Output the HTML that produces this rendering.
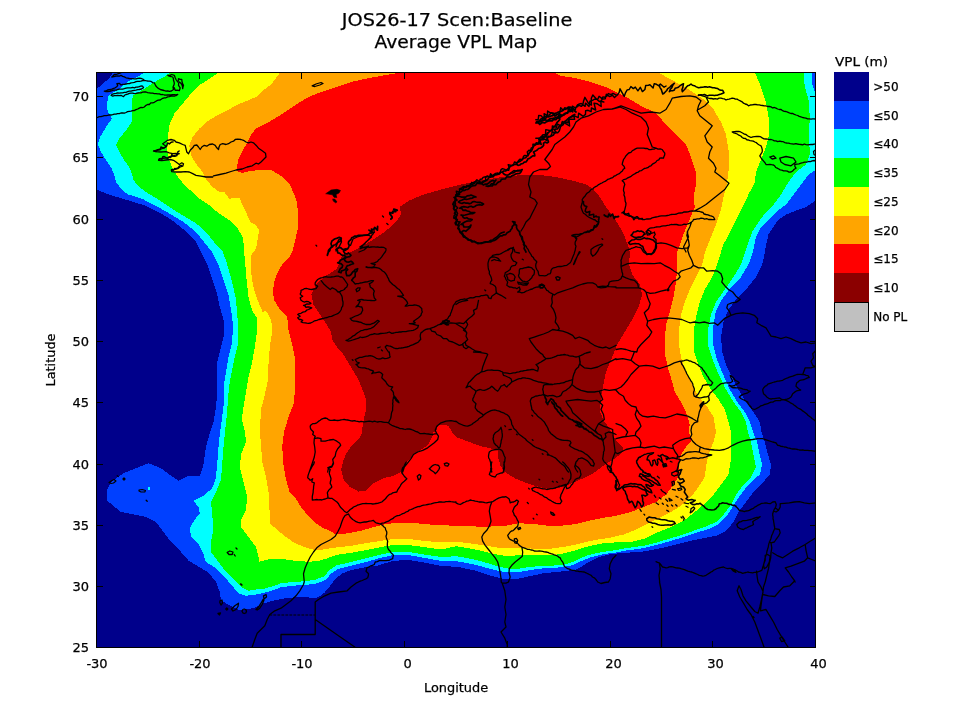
<!DOCTYPE html>
<html><head><meta charset="utf-8"><title>Average VPL Map</title>
<style>
html,body{margin:0;padding:0;background:#fff}
body{width:960px;height:720px;overflow:hidden}
svg{display:block}
text{font-family:"DejaVu Sans","Liberation Sans",sans-serif;fill:#000;stroke:#000;stroke-width:.25px}
.t{font-size:17.8px}
.k{font-size:13px}
.l{font-size:12.9px}
.g{font-size:12px}
</style></head><body>
<svg width="960" height="720" viewBox="0 0 960 720">
<rect width="960" height="720" fill="#fff"/>
<defs><clipPath id="c"><rect x="96.5" y="72.5" width="719.0" height="574.5"/></clipPath></defs>
<g clip-path="url(#c)" shape-rendering="crispEdges">
<rect x="96.5" y="72.5" width="719.0" height="574.5" fill="#00008b"/>
<polygon fill="#0040ff" points="96.0,89.5 102.8,83.8 108.7,78.8 112.5,73.5 113.0,72.0 816.0,72.0 816.0,200.5 806.0,207.0 796.0,210.5 786.0,214.5 778.0,220.0 773.5,227.0 768.5,234.5 766.0,244.5 765.0,252.0 762.2,264.5 756.0,277.0 746.0,289.5 736.0,299.5 728.5,309.5 723.5,322.0 721.0,337.0 722.2,352.0 726.0,364.5 732.2,377.0 738.5,389.5 746.0,402.0 753.5,412.0 759.8,422.0 761.5,432.0 764.8,442.0 767.2,452.0 771.0,464.5 769.8,474.5 762.2,483.2 753.5,492.0 746.0,502.0 738.5,512.0 733.5,522.0 726.0,530.8 716.0,535.8 703.5,538.2 691.0,540.8 676.0,544.5 661.0,548.2 643.5,551.5 626.0,552.8 611.0,554.0 598.5,557.0 588.5,562.0 581.0,567.0 576.0,569.5 561.0,571.5 543.5,573.2 528.5,576.5 516.0,579.0 503.5,579.0 491.0,575.8 476.0,570.8 458.5,567.0 441.0,565.8 423.5,562.5 408.5,560.0 393.5,560.8 386.0,563.0 376.8,565.8 364.3,567.4 356.0,569.0 349.3,570.8 342.7,573.3 337.7,577.0 333.5,581.2 329.3,587.0 324.3,592.8 318.5,597.2 312.7,598.2 304.5,596.8 296.0,597.0 289.0,598.0 282.7,598.7 271.0,601.2 262.7,603.7 254.3,607.8 246.0,609.5 237.7,609.5 229.3,605.3 221.0,600.3 219.8,592.0 216.0,582.0 208.5,572.5 198.5,566.5 188.5,560.5 181.0,552.0 171.0,542.0 163.5,532.0 156.0,522.0 146.0,517.0 133.5,514.5 121.0,512.0 114.8,507.0 107.2,500.8 106.5,490.8 111.0,482.0 123.5,473.2 136.0,468.2 148.5,463.2 161.0,468.2 171.0,475.8 178.5,480.8 187.2,476.5 199.8,475.8 203.5,464.5 206.0,447.0 210.0,432.0 213.5,422.0 216.0,407.0 217.2,392.0 216.5,377.0 217.2,362.0 221.0,347.0 224.0,334.5 223.5,319.5 219.8,307.0 217.2,294.5 212.2,279.5 207.2,264.5 201.0,252.0 196.0,242.0 183.5,229.5 171.0,219.5 158.5,212.0 146.0,205.8 133.5,202.0 121.0,198.2 108.5,194.5 96.0,189.5"/>
<polygon fill="#00ffff" points="108.3,112.2 107.0,108.0 107.4,103.0 107.8,97.2 111.2,93.8 117.0,90.5 124.5,84.7 127.0,82.2 132.0,79.7 138.7,76.3 145.3,72.0 811.5,72.0 812.2,84.5 815.5,93.2 816.0,93.2 816.0,169.5 808.5,174.5 801.0,184.5 793.5,194.5 786.0,204.5 776.0,212.0 768.5,219.5 761.0,227.0 756.0,237.0 753.0,252.0 748.5,264.5 741.0,277.0 731.0,287.0 721.9,299.5 715.6,312.0 713.1,327.0 713.1,344.5 716.9,359.5 723.1,374.5 729.8,389.5 737.2,402.0 744.8,412.0 749.8,422.0 753.0,432.0 757.2,442.0 759.0,452.0 762.2,464.5 759.8,474.5 751.0,482.0 743.5,490.8 737.2,499.5 731.0,509.5 726.0,517.0 718.5,524.0 708.5,529.0 696.0,532.8 683.5,537.0 671.0,540.8 658.5,544.5 643.5,548.2 626.0,550.5 615.0,552.8 609.3,553.3 599.3,555.0 589.3,557.8 581.0,561.2 572.7,565.0 562.7,567.3 551.0,567.8 539.3,568.7 529.3,570.3 519.3,572.0 509.3,572.3 499.3,571.2 489.3,568.7 477.7,565.3 466.0,562.8 456.5,561.2 441.0,560.8 423.5,557.8 408.5,555.0 393.5,555.0 381.0,557.8 366.0,562.0 351.0,565.8 337.7,569.0 331.0,573.7 326.0,579.5 317.7,583.3 306.0,585.0 292.7,585.7 281.0,587.3 272.7,590.3 264.3,592.8 256.0,594.5 246.0,595.8 238.5,593.2 231.0,584.5 223.5,575.8 216.0,568.2 206.0,562.0 203.5,554.5 198.5,544.5 191.0,537.0 189.8,528.2 194.8,519.5 199.8,513.2 198.5,507.0 193.5,500.8 203.5,495.8 212.2,488.2 215.5,479.5 217.2,464.5 218.5,447.0 220.0,432.0 222.2,417.0 224.0,402.0 223.5,387.0 226.0,372.0 228.5,357.0 232.2,342.0 233.0,324.5 231.0,309.5 228.5,294.5 223.5,279.5 218.5,264.5 212.0,252.0 206.0,244.5 196.0,232.0 183.5,222.0 171.0,214.5 156.0,205.8 143.5,199.5 128.5,194.5 124.3,192.0 121.0,188.7 116.0,182.0 114.3,175.3 111.8,168.7 106.0,160.3 101.0,152.0 97.7,143.7 100.2,137.0 106.0,127.0 111.8,118.7"/>
<polygon fill="#00ff00" points="131.2,123.0 132.4,118.0 132.0,109.7 132.0,101.3 132.8,95.5 138.7,92.2 145.3,88.0 152.0,83.8 158.7,79.7 165.3,76.3 170.3,72.0 803.5,72.0 804.8,87.0 808.5,99.5 809.8,117.0 809.0,134.5 809.8,154.5 806.0,164.5 796.0,172.0 788.5,182.0 781.0,194.5 773.5,204.5 766.0,212.0 758.5,222.0 752.2,232.0 748.5,242.0 745.0,252.0 741.0,264.5 733.5,277.0 724.8,289.5 716.0,302.0 711.0,314.5 708.0,329.5 708.5,347.0 713.5,362.0 719.8,377.0 726.0,389.5 733.5,402.0 741.0,412.0 746.0,422.0 748.0,432.0 751.0,442.0 753.5,454.5 756.0,467.0 751.0,477.0 743.5,484.5 736.0,494.5 731.0,504.5 723.5,514.5 716.0,522.0 706.0,526.5 693.5,530.8 683.5,534.5 671.0,538.2 658.5,542.0 643.5,545.8 626.0,548.2 615.0,550.3 607.7,551.2 597.7,552.8 587.7,555.3 579.3,558.7 572.7,562.0 562.7,565.0 551.0,565.7 539.3,566.2 529.3,567.0 519.3,568.7 509.3,568.7 499.3,566.7 489.3,563.7 477.7,560.3 466.0,557.8 456.5,556.2 441.0,557.0 423.5,554.5 408.5,552.0 393.5,552.0 381.0,554.5 366.0,558.2 351.0,562.0 336.0,565.5 329.3,570.3 324.3,576.2 316.0,579.5 306.0,581.2 292.7,582.0 281.0,583.3 272.7,586.2 264.3,588.7 256.0,589.5 248.5,590.8 241.0,587.0 233.5,579.5 226.0,572.0 218.5,562.0 211.0,552.0 211.0,542.0 213.5,529.5 212.2,514.5 211.0,502.0 216.0,492.0 221.0,479.5 222.2,464.5 223.5,447.0 225.0,432.0 227.2,412.0 228.0,397.0 229.8,382.0 232.2,369.5 234.8,357.0 238.0,344.5 238.5,329.5 237.2,314.5 236.0,299.5 232.2,282.0 227.2,264.5 223.0,252.0 216.0,244.5 206.0,232.0 196.0,223.2 183.5,215.8 171.0,208.2 158.5,199.5 146.0,192.0 139.3,187.0 133.5,180.3 131.8,173.7 129.3,167.0 124.3,160.3 119.3,152.0 116.0,145.3 119.3,138.7 126.0,130.3"/>
<polygon fill="#ffff00" points="219.3,72.0 754.8,72.0 761.0,87.0 766.0,102.0 768.5,117.0 769.0,134.5 766.0,147.0 761.0,159.5 756.0,172.0 754.8,182.0 748.5,194.5 741.0,209.5 736.0,219.5 729.8,232.0 723.5,244.5 721.0,252.0 717.2,264.5 712.2,277.0 704.8,289.5 699.8,302.0 696.0,317.0 693.5,332.0 693.5,349.5 698.5,364.5 703.5,377.0 711.0,389.5 718.5,399.5 724.8,409.5 728.5,422.0 731.0,432.0 731.5,444.5 731.0,459.5 728.5,474.5 721.0,484.5 713.5,494.5 703.5,504.5 693.5,513.2 683.5,520.8 671.0,527.0 658.5,532.0 646.0,538.2 631.0,542.0 616.0,542.3 602.7,543.4 592.7,545.3 582.7,547.8 572.7,551.2 562.7,553.7 551.0,555.3 539.3,555.0 527.7,554.5 517.7,555.3 507.7,556.2 499.3,555.0 489.3,552.8 477.7,550.0 466.0,547.8 456.5,546.2 441.0,549.5 423.5,547.0 408.5,545.0 393.5,545.0 381.0,547.0 366.0,550.2 351.0,552.8 336.0,555.0 326.0,558.7 317.7,561.2 309.3,561.7 297.7,561.2 286.0,559.5 272.7,558.7 264.3,560.3 258.5,562.0 258.5,557.0 256.0,547.0 248.5,537.0 241.0,527.0 241.0,519.5 246.0,509.5 247.2,497.0 243.5,482.0 239.8,467.0 241.0,454.5 246.0,442.0 245.0,432.0 241.8,419.5 243.5,407.0 246.0,392.0 248.5,377.0 252.2,362.0 254.8,347.0 257.2,329.5 257.2,318.2 252.2,310.8 248.5,297.0 246.8,282.0 245.5,267.0 244.2,252.0 244.3,248.7 242.7,237.0 237.7,228.7 229.3,220.3 219.3,213.7 209.3,205.3 199.3,198.7 192.7,192.0 186.0,187.0 179.3,178.7 173.5,170.3 169.3,160.3 166.8,150.3 167.7,138.7 169.3,125.3 174.3,113.7 182.7,103.7 191.0,93.7 199.3,85.3 209.3,78.7"/>
<polygon fill="#ffa500" points="280.5,72.0 657.2,72.0 671.0,79.5 688.5,89.5 703.5,99.5 713.5,109.5 721.0,122.0 726.0,134.5 728.5,149.5 729.0,167.0 727.2,182.0 723.5,197.0 721.0,209.5 716.0,224.5 711.0,237.0 705.0,252.0 702.2,264.5 696.0,277.0 689.8,289.5 684.8,302.0 681.0,314.5 679.0,329.5 679.0,344.5 681.0,357.0 686.0,372.0 692.2,384.5 698.5,397.0 707.2,407.0 713.5,417.0 716.0,432.0 713.5,442.0 708.5,454.5 706.0,467.0 704.8,477.0 698.5,487.0 691.0,497.0 681.0,505.8 671.0,512.0 658.5,518.2 646.0,524.5 636.0,529.5 623.5,534.5 609.3,537.8 597.7,539.5 586.0,542.0 574.3,545.0 562.7,547.0 551.0,548.7 539.3,549.0 527.7,548.3 517.7,547.8 507.7,548.3 499.3,547.8 489.3,546.2 477.7,544.5 466.0,542.8 456.0,541.7 441.0,542.5 423.5,540.8 408.5,539.0 393.5,539.0 381.0,540.8 366.0,543.2 351.0,545.8 336.0,547.5 322.7,549.5 312.7,549.5 304.3,547.0 294.3,542.8 286.0,537.0 277.7,530.3 270.2,523.7 269.3,505.3 268.5,492.0 266.0,477.0 262.2,462.0 261.0,444.5 259.8,432.0 261.0,409.5 264.8,394.5 268.0,379.5 268.5,364.5 269.8,347.0 272.5,329.5 271.0,319.5 266.0,310.8 262.7,312.0 257.7,300.3 254.3,290.3 251.8,278.7 250.7,265.3 251.0,255.3 256.0,248.7 257.7,238.7 259.3,230.3 256.0,225.3 250.2,222.0 246.0,212.0 242.7,205.3 239.3,197.8 229.3,198.7 224.3,192.0 219.3,192.0 212.7,187.0 206.8,180.3 202.7,172.0 196.0,163.7 191.0,155.3 189.3,145.3 192.7,137.0 199.3,128.7 207.7,121.2 216.0,116.2 226.0,111.2 236.0,105.3 246.0,101.2 256.0,97.0 261.0,92.0 271.0,84.5"/>
<polygon fill="#ff0000" points="403.5,72.0 553.5,72.0 561.0,75.8 576.0,78.2 591.0,82.0 608.5,88.2 626.0,97.0 641.0,105.8 656.0,113.2 666.0,124.5 676.0,134.5 686.0,144.5 691.0,157.0 696.0,172.0 696.0,184.5 693.5,197.0 694.8,207.0 688.5,222.0 683.5,234.5 677.2,252.0 677.2,267.0 676.0,282.0 673.5,297.0 669.8,312.0 666.0,324.5 664.8,339.5 664.8,354.5 668.5,369.5 672.2,382.0 674.8,392.0 681.0,402.0 686.0,412.0 689.8,424.5 688.5,432.0 692.2,439.5 686.0,447.0 681.0,454.5 678.5,464.5 679.8,474.5 673.5,484.5 666.0,494.5 656.0,502.0 643.5,507.0 631.0,512.0 616.0,515.8 601.0,518.2 588.5,520.8 576.0,524.0 561.0,525.8 548.5,525.8 533.5,524.0 518.5,523.2 506.0,525.8 491.0,526.5 476.0,526.5 456.0,525.8 436.0,525.0 416.0,523.2 401.0,522.5 386.0,524.0 373.5,527.0 361.0,530.8 348.5,533.2 336.0,534.5 331.0,531.2 322.7,527.8 314.3,522.0 307.7,515.3 301.0,507.0 296.0,498.7 289.5,492.0 286.0,479.5 283.5,464.5 282.2,447.0 284.0,432.0 288.5,417.0 293.5,404.5 294.8,392.0 294.8,377.0 295.2,359.5 292.2,344.5 288.5,329.5 287.2,317.0 282.7,312.0 279.3,308.7 274.3,300.3 272.7,292.0 274.3,282.0 277.7,272.0 282.7,263.7 289.3,257.0 292.7,250.3 295.2,240.3 297.7,228.7 298.5,215.3 296.8,202.0 294.5,195.0 289.8,184.5 281.0,175.8 271.0,170.0 258.5,170.0 249.3,171.2 242.7,172.8 237.7,172.0 236.8,167.0 238.5,158.7 242.7,150.3 247.7,142.0 251.8,133.7 256.0,128.7 258.5,127.0 271.0,120.8 283.5,113.2 296.0,104.5 308.5,97.0 321.0,92.0 336.0,87.0 351.0,82.0 368.5,78.2 386.0,75.0"/>
<polygon fill="#8b0000" points="351.0,252.0 361.0,247.0 373.5,239.5 386.0,230.8 396.0,222.0 401.0,214.5 399.8,207.0 408.5,200.8 423.5,194.5 441.0,189.5 461.0,184.5 486.0,179.5 511.0,175.8 536.0,174.5 556.0,177.0 576.0,181.5 586.0,184.5 593.5,189.5 599.8,197.0 606.0,207.0 613.5,217.0 619.8,227.0 624.8,237.0 628.5,247.0 629.8,252.0 629.2,264.5 632.2,274.5 639.8,284.5 642.2,294.5 638.5,307.0 632.2,319.5 624.8,332.0 617.2,344.5 612.2,357.0 606.0,372.0 603.5,384.5 601.0,397.0 600.0,412.0 604.0,421.0 608.3,426.7 611.7,433.3 614.0,437.5 617.0,441.5 620.5,445.0 623.5,448.5 622.5,452.0 619.5,454.8 615.5,458.0 610.5,461.5 606.7,463.3 600.0,468.3 593.3,473.3 583.3,478.3 573.3,482.5 563.3,486.7 553.3,489.2 545.0,488.3 535.0,485.8 525.0,482.5 515.0,478.3 506.7,473.3 500.8,466.7 498.3,458.3 497.5,450.0 490.0,448.3 480.0,446.0 476.0,444.5 466.0,440.8 456.0,437.0 452.0,432.0 448.5,426.0 444.0,424.5 438.0,425.0 436.0,432.0 433.5,432.0 432.2,437.0 428.5,444.5 421.0,449.5 411.0,457.0 404.8,464.5 401.0,472.0 393.5,475.8 383.5,478.2 373.5,483.2 366.0,490.8 358.5,491.5 349.8,487.0 343.5,479.5 341.0,469.5 343.5,460.3 346.0,453.7 350.2,447.8 354.3,442.8 359.3,438.7 361.8,433.7 362.7,425.3 364.3,417.0 366.3,408.7 366.3,401.0 363.5,392.0 358.5,379.5 351.0,367.0 343.5,354.5 336.0,345.8 332.2,339.5 331.0,332.0 326.0,323.2 319.8,314.5 313.5,304.5 311.5,294.5 316.0,284.5 326.0,275.8 336.0,269.5 340.0,262.0 342.0,255.0"/>
<polygon fill="#00ffff" points="147.5,487.3 150.0,487.3 150.0,489.6 147.5,489.6"/>
</g>
<g clip-path="url(#c)" fill="none" stroke="#000" stroke-width="1" stroke-linejoin="round" stroke-linecap="round">
<path stroke-width="1.30" d="M96.0,117.8 L97.6,117.3 L99.3,116.7 L101.0,116.7 L102.7,116.2 L104.3,115.6 L106.0,115.7 L107.6,115.3 L109.3,114.8 L111.0,115.0 L112.7,114.7 L114.3,114.1 L116.0,114.1 L117.6,113.6 L119.3,113.7 L120.9,113.0 L122.7,113.0 L124.4,113.1 L126.0,112.5 L127.6,111.7 L129.3,111.3 L131.0,111.2 L132.7,110.7 L134.5,110.5 L136.0,109.6 L137.7,109.0 L139.3,108.1 L141.0,107.3 L142.7,107.6 L144.3,107.0 L146.0,105.3 L147.6,104.5 L149.3,104.5 L151.0,102.8 L152.7,102.9 L154.3,102.3 L156.8,100.7 L158.5,100.1 L160.2,100.0 L162.7,98.3 L164.3,97.8 L166.0,97.8 L167.6,96.9 L169.3,96.7 L171.0,96.2 L172.7,96.2 L174.8,96.0 L176.8,95.3 L177.7,94.5 L176.0,94.9 L174.3,94.6 L172.7,94.7 L171.0,95.0 L169.3,95.0 L167.7,94.8 L166.0,95.1 L164.3,95.0 L162.7,94.5 L161.0,94.6 L159.4,93.9 L157.7,93.9 L156.0,93.7 L154.3,93.6 L152.7,93.2 L151.0,93.1 L149.3,92.8 L147.6,92.7 L146.0,92.0 L144.3,92.0 L142.6,92.1 L141.0,92.8 L139.3,92.8 L137.7,93.0 L136.0,93.4 L134.3,93.7 L132.7,93.2 L131.0,93.2 L129.3,93.3 L127.7,94.1 L126.0,94.5 L124.5,95.3 L123.5,96.7 L121.0,95.3 L119.3,95.7 L117.7,95.3 L116.0,95.7 L114.3,95.7 L112.7,96.2 L111.0,95.3 L112.5,94.2 L114.3,93.7 L116.0,93.4 L117.6,92.8 L119.4,93.2 L121.0,92.8 L122.7,92.8 L124.3,92.3 L126.1,92.3 L127.7,91.7 L129.3,91.2 L131.0,91.2 L132.7,90.7 L134.3,90.3 L136.0,90.1 L137.7,89.7 L139.3,89.5 L141.5,89.0 L143.5,87.8 L142.7,86.2 L140.9,86.0 L139.3,86.7 L137.7,87.0 L136.0,87.1 L134.4,87.8 L132.6,87.4 L131.0,87.8 L129.3,87.9 L127.6,87.8 L126.0,88.2 L124.3,88.7 L122.7,89.1 L121.0,89.2 L119.3,89.1 L117.7,89.5 L116.1,90.2 L114.3,90.1 L112.7,90.3 L111.1,91.0 L109.4,91.3 L107.7,91.7 L106.0,91.7 L104.3,91.2 L106.1,91.0 L107.6,90.0 L109.3,89.7 L111.0,89.5 L113.0,88.6 L115.2,87.8 L116.7,86.8 L117.7,85.3 L116.8,83.7 L119.3,83.3 L121.0,85.0 L122.6,84.3 L124.3,84.3 L126.0,84.0 L127.7,83.7 L129.4,83.6 L131.0,82.8 L132.7,82.7 L134.4,82.4 L136.0,81.7 L137.6,81.3 L139.3,81.3 L141.0,81.2 L142.6,80.6 L144.3,80.3 L142.7,79.0 L141.0,78.4 L139.4,78.1 L137.7,78.3 L136.0,78.8 L134.4,78.8 L132.7,78.7 L131.0,78.7 L129.3,78.5 L127.7,78.1 L126.0,77.8 L124.4,76.9 L122.6,76.4 L121.0,75.3 L119.4,76.1 L117.7,76.0 L116.0,76.2 L113.9,76.7 L111.8,77.0 L113.1,75.8 L114.3,74.5 L116.1,74.5 L117.7,73.9 L119.3,73.3 L121.0,72.7 L122.7,72.0 M144.3,80.3 L146.0,80.7 L147.6,81.0 L149.3,81.2 L151.1,81.4 L152.6,82.6 L154.3,82.8 L155.0,84.3 L155.7,85.8 L156.8,87.0 L158.4,88.4 L160.2,89.5 L162.1,90.0 L164.1,90.5 L166.0,91.2 L167.7,90.8 L169.3,91.3 L171.0,91.2 L173.5,89.5 L173.0,87.0 L174.3,87.8 L175.2,90.3 L177.3,90.2 L179.3,90.7 L180.2,87.8 L178.5,85.3 L178.6,83.6 L179.3,82.0 L180.7,83.1 L181.8,84.5 L182.5,86.5 L182.7,88.7 L183.0,87.0 L183.5,85.3 L182.6,83.5 L182.0,81.6 L181.8,79.5 L180.1,79.4 L178.5,78.7 L178.4,80.4 L177.7,82.0 L176.0,79.5 L175.1,77.5 L174.3,75.3 L171.8,74.5 L169.8,75.3 L167.7,75.3 L169.2,76.2 L171.0,76.5 L172.7,77.0 L173.4,78.6 L173.5,80.3 L174.1,82.0 L174.3,83.7 L173.8,85.4 L173.0,87.0 M167.7,140.3 L171.0,139.5 L174.3,140.3 L176.0,142.0 L179.3,142.8 L182.7,144.5 L185.2,145.3 L186.0,148.7 L186.8,152.0 L188.5,153.7 L190.2,150.3 L192.7,147.8 L194.3,145.3 L196.8,145.0 L198.5,147.0 L200.2,149.5 L201.8,147.0 L204.3,145.3 L206.8,146.2 L209.3,144.5 L212.7,144.0 L215.2,145.3 L216.8,147.8 L218.5,149.5 L219.0,147.0 L220.2,144.5 L222.7,143.7 L226.0,144.5 L228.5,143.7 L231.0,142.0 L233.5,141.2 L235.2,139.5 L237.7,139.2 L241.0,139.5 L243.5,140.3 L246.0,142.0 L248.5,142.8 L251.0,142.0 L253.5,142.8 L256.0,145.3 M256.0,145.2 L258.5,148.2 L262.2,150.8 L265.5,153.2 L266.0,157.0 L263.5,159.5 L261.0,162.0 L258.5,164.0 L256.0,163.2 L252.2,165.8 L247.2,167.0 L242.2,169.0 L236.0,170.0 L231.0,171.5 L226.0,173.2 L219.8,174.5 L213.5,175.8 M212.7,177.0 L206.0,177.0 L201.0,176.2 L196.0,175.3 L192.7,173.7 L189.3,172.0 L185.2,171.7 L181.0,172.0 L176.0,172.0 L171.8,171.7 L171.3,170.0 L174.3,169.5 L177.7,168.7 L180.2,167.0 L182.7,166.2 L183.5,163.7 L181.8,162.8 L179.3,164.5 L177.7,163.3 L176.0,162.0 L173.5,160.3 L170.2,159.5 L166.0,160.0 L161.8,160.7 L158.5,160.3 L159.3,158.7 L162.7,158.3 L167.7,157.8 L172.7,156.2 L176.0,155.0 L179.3,153.7 L176.0,153.3 L172.7,153.7 L169.3,152.8 L166.0,151.7 L161.0,152.0 L156.0,151.7 L153.5,151.2 L156.8,150.0 L161.0,149.0 L164.3,147.8 L166.0,146.2 L164.3,145.0 L162.7,143.7 L165.2,142.0 L167.7,140.3 M312.2,85.8 L316.0,84.0 L321.0,82.5 L323.0,83.5 L319.8,85.0 L314.8,86.5 L312.2,85.8 M382.5,216.0 L383.5,217.0 M386.8,223.5 L388.0,224.5 M336.0,247.0 L338.5,240.0 L341.0,238.0 L341.5,242.0 L339.0,247.0 L336.0,251.0 M350.5,245.5 L353.0,239.0 L357.2,237.0 L361.0,235.8 L368.5,235.0 L371.5,237.0 L367.2,241.0 L363.5,244.5 L359.8,247.0 L364.0,247.5 L368.5,246.0 L364.0,250.0 L359.0,252.0 M521.0,231.0 L523.5,227.0 L526.0,222.0 L529.8,218.2 L532.2,213.2 L534.8,208.2 L537.2,203.2 L534.8,199.5 L529.8,197.0 L531.0,192.0 L528.5,184.5 L529.8,177.0 L533.5,172.0 L539.8,169.5 L547.2,169.5 L550.5,166.5 L548.5,163.2 L544.8,159.5 L548.5,154.5 L552.2,149.5 L554.8,144.5 L559.8,140.8 L564.8,137.0 L569.8,132.0 L573.5,127.0 L576.0,122.0 M508.5,250.0 L511.0,248.0 L514.0,249.0 L515.0,252.0 M572.0,236.0 L574.8,237.0 L576.0,239.0 M698.5,95.0 L700.5,95.2 L702.3,95.9 L704.2,96.3 L706.0,97.0 L707.8,97.9 L709.6,98.5 L711.6,98.5 L713.5,99.0 L715.3,98.6 L717.3,99.1 L719.1,98.2 L721.0,98.2 L722.7,98.7 L724.5,98.9 L726.0,100.0 L727.5,99.4 L729.1,99.1 L730.7,98.7 L732.2,98.2 L733.9,98.4 L735.4,99.1 L737.1,99.1 L738.5,100.0 L740.3,100.9 L742.1,101.8 L743.5,103.2 L745.2,104.0 L747.0,104.5 L748.5,105.8 L750.3,105.0 L752.2,104.9 L754.1,104.5 L756.0,104.5 L757.7,104.8 L759.3,104.9 L761.0,105.4 L762.6,105.5 L764.3,105.8 L766.0,105.8 L767.6,106.5 L769.4,106.5 L771.0,106.8 L772.5,107.9 L774.4,107.5 L776.0,108.2 L777.6,109.0 L779.3,109.5 L781.1,109.4 L782.6,110.7 L784.2,111.3 L786.0,111.5 L787.6,112.2 L789.3,112.9 L790.9,113.5 L792.8,113.5 L794.3,114.4 L796.0,115.0 L797.7,115.5 L799.2,116.4 L800.9,116.9 L802.6,117.5 L804.3,117.8 L806.0,118.2 L807.6,118.8 L809.3,118.8 L811.0,119.1 L812.7,118.8 L814.4,118.8 L816.0,119.5 M576.0,122.0 L581.0,118.2 L588.5,115.8 L596.0,112.0 L603.5,109.5 L612.2,109.0 M612.2,109.0 L619.8,107.0 L626.0,109.5 L632.2,113.2 L641.0,117.0 L646.0,122.0 L648.5,128.2 L647.2,134.5 L649.8,140.8 L652.2,147.0 L656.0,148.2 M612.2,109.0 L621.0,105.8 L631.0,109.5 L641.0,113.2 L651.0,112.0 L659.8,113.2 L666.0,109.5 L669.8,103.2 L672.2,98.2 L681.0,96.5 L689.8,95.8 L696.0,97.0 L701.0,100.8 L698.5,105.8 L697.2,110.8 M698.5,109.5 L704.8,105.8 L708.5,102.0 L706.0,97.0 M697.2,110.8 L699.8,115.8 L706.0,120.8 L712.2,125.8 L708.5,130.8 L704.8,135.8 L707.2,142.0 L712.2,147.0 L709.8,152.0 L708.5,158.2 L713.5,163.2 L716.0,168.2 L714.8,172.0 L719.8,175.8 L726.0,180.8 L729.0,183.2 L724.8,189.5 L718.5,194.5 L712.2,199.5 L706.0,204.5 L699.8,208.2 L694.8,210.8 M656.0,148.2 L654.4,149.0 L652.7,149.2 L651.0,149.5 L649.1,149.6 L647.3,148.5 L645.4,148.5 L643.5,148.2 L641.4,148.1 L639.3,148.1 L637.2,148.2 L635.5,148.9 L633.9,149.9 L632.2,150.8 L630.9,152.4 L628.7,153.0 L627.2,154.5 L625.8,156.0 L624.7,157.8 L623.5,159.5 L623.0,161.2 L622.5,162.8 L622.2,164.5 L623.9,166.1 L624.8,168.2 L623.3,169.3 L622.4,170.9 L621.0,172.0 L619.4,173.6 L617.2,174.5 L615.8,175.6 L614.0,176.2 L612.7,177.6 L611.0,178.2 L609.4,178.8 L607.8,179.3 L606.5,180.5 L605.1,181.4 L603.5,182.0 L601.9,183.0 L600.3,183.7 L598.7,184.6 L597.2,185.8 L595.6,186.6 L594.1,187.5 L592.8,188.9 L591.0,189.5 L590.0,191.0 L588.7,192.2 L587.1,193.1 L586.0,194.5 L584.9,196.3 L583.4,197.8 L582.2,199.5 L582.4,201.5 L582.1,203.3 L581.5,205.2 L581.0,207.0 L581.5,208.6 L582.1,210.2 L582.7,211.8 L583.5,213.2 L585.3,214.3 L586.8,215.8 L588.5,217.0 L590.2,217.8 L591.8,218.6 L593.5,219.5 L595.3,220.0 L596.7,221.5 L598.5,222.0 L597.9,223.8 L596.4,225.1 L596.0,227.0 L594.1,227.9 L593.0,229.9 L591.0,230.8 L589.3,231.2 L587.6,231.3 L586.0,232.0 L584.1,232.4 L582.7,233.7 L581.0,234.5 L579.4,235.5 L577.8,236.4 L576.0,237.0 M656.0,148.2 L658.0,149.1 L660.2,148.8 L662.2,149.5 L663.4,151.4 L664.8,153.2 L664.7,155.0 L663.9,156.6 L663.5,158.2 L661.6,157.8 L659.8,158.2 L658.8,159.8 L657.0,160.5 L656.0,162.0 L654.3,163.2 L652.4,164.2 L651.0,165.8 L649.2,166.4 L647.8,167.7 L646.0,168.2 L644.3,168.5 L642.9,169.5 L641.5,170.6 L639.8,170.8 L638.4,172.1 L636.6,172.6 L635.1,173.6 L633.5,174.5 L632.0,175.6 L630.6,176.7 L628.9,177.4 L627.2,178.2 L625.7,179.2 L623.8,179.6 L622.2,180.8 L623.9,182.3 L624.8,184.5 L624.1,186.5 L623.6,188.6 L623.5,190.8 L624.3,192.8 L623.9,195.0 L624.8,197.0 L625.0,199.1 L625.2,201.2 L626.0,203.2 L625.8,205.4 L625.3,207.4 L624.8,209.5 L624.2,211.4 L623.5,213.2 L624.9,214.5 L626.8,215.0 L628.5,215.8 L630.4,216.2 L632.3,216.9 L634.2,217.4 L636.0,218.2 L638.2,218.2 L640.2,218.7 L642.2,219.5 L644.4,219.7 L646.4,219.0 L648.5,219.0 L650.5,218.9 L652.2,217.8 L654.1,217.3 L656.0,217.0 L657.9,216.7 L659.7,216.1 L661.6,215.9 L663.5,215.8 L665.4,215.9 L667.3,215.5 L669.2,215.1 L671.0,214.5 L672.9,214.3 L674.8,214.3 L676.7,214.0 L678.5,213.2 L680.4,213.0 L682.3,212.8 L684.1,211.9 L686.0,212.0 L688.1,211.8 L690.2,211.1 L692.2,210.8 L694.1,211.0 L696.0,210.8 L697.6,211.3 L699.4,211.4 L701.0,212.0 L702.9,212.4 L704.1,214.0 L706.0,214.5 L708.0,214.8 L709.8,215.7 L711.7,216.2 L713.5,217.0 L714.8,219.5 L712.7,219.7 L710.6,219.3 L708.5,219.5 L706.7,218.7 L704.7,219.1 L702.9,218.4 L701.0,218.2 L699.2,218.8 L697.2,218.8 L695.4,219.3 L693.5,219.5 L692.8,221.0 L691.5,222.0 L689.8,223.1 L688.0,223.9 L686.0,224.5 L684.1,224.2 L682.3,224.8 L680.4,225.2 L678.5,225.0 L676.7,224.5 L674.8,224.3 L672.9,224.7 L671.0,224.5 L669.2,225.2 L667.3,225.4 L665.4,225.8 L663.5,225.8 L661.7,226.2 L659.8,226.8 L657.9,226.9 L656.0,227.0 L654.0,227.7 L651.8,227.8 L649.8,228.2 L648.2,229.2 L647.1,230.6 L646.0,232.0 L647.9,232.9 L649.8,234.0 L652.0,233.2 L654.2,232.5 M691.5,222.0 L689.8,227.0 L687.2,232.0 L688.5,237.0 L686.0,242.0 L683.5,247.0 L686.0,252.0 M816.0,144.0 L814.3,144.1 L812.7,144.5 L811.0,144.5 L809.3,144.7 L807.7,144.9 L806.0,144.7 L804.3,144.0 L802.7,144.9 L801.0,144.5 L799.2,144.3 L797.4,144.0 L795.7,143.6 L793.8,144.1 L792.0,143.8 L790.3,143.7 L788.5,143.2 L786.7,143.0 L784.9,142.6 L783.2,141.7 L781.4,141.5 L779.6,141.1 L777.7,141.6 L776.0,140.8 L774.3,140.9 L772.7,140.0 L771.1,139.5 L769.3,139.6 L767.7,139.2 L766.0,139.0 L764.0,138.8 L762.2,137.9 L760.5,136.7 L758.5,136.5 L756.6,136.4 L754.7,136.6 L752.8,136.8 L751.0,137.5 L749.2,136.7 L747.5,135.8 L746.0,134.5 L744.4,134.2 L743.0,133.3 L741.6,132.5 L740.2,131.7 L738.5,131.5 L736.4,131.4 L734.3,131.7 L732.2,132.0 L733.8,132.9 L735.6,133.3 L737.2,134.0 L738.9,135.2 L740.8,136.0 L742.2,137.5 L743.7,138.4 L745.5,138.5 L746.8,139.8 L748.5,140.0 L750.0,140.6 L751.7,140.8 L753.3,141.1 L754.8,142.0 L756.4,142.7 L757.8,144.0 L759.3,145.0 L761.0,145.8 L761.8,147.8 L762.3,149.8 L762.2,152.0 L761.0,153.9 L759.8,155.8 L760.9,157.7 L762.2,159.5 L763.6,161.1 L765.0,162.7 L766.0,164.5 L767.9,164.7 L769.8,164.3 L771.6,164.7 L773.5,165.0 L774.8,166.1 L775.7,167.5 L777.2,168.2 L778.8,169.0 L780.2,169.9 L781.9,170.1 L783.5,170.8 L785.4,170.8 L787.3,171.1 L789.0,172.1 L791.0,172.0 L792.8,170.9 L794.2,169.3 L796.0,168.2 L794.9,166.5 L794.8,164.5 L796.8,164.1 L799.0,163.8 L801.0,163.2 L802.9,162.7 L804.7,162.1 L806.7,162.1 L808.5,161.5 L810.4,161.7 L812.2,160.9 L814.1,160.5 L816.0,160.8 M769.8,157.0 L773.5,155.8 L776.0,158.2 L772.2,159.0 L769.8,157.0 M779.8,158.2 L786.0,156.5 L793.5,158.2 L796.0,162.0 L791.0,165.8 L784.8,164.5 L781.0,162.0 L779.8,158.2 M816.0,149.5 L813.5,151.5 L814.0,154.5 L816.0,155.8 M315.2,282.8 L316.3,281.1 L317.7,279.5 L319.3,278.6 L321.0,277.8 L322.7,277.6 L324.3,276.8 L326.0,276.7 L327.6,277.1 L329.3,277.1 L331.0,277.0 L332.7,276.8 L334.3,276.7 L336.4,276.1 L338.5,276.2 L340.1,277.0 L341.8,277.0 L343.2,278.1 L344.3,279.5 L346.0,282.0 L347.7,284.5 L346.8,287.0 L345.4,288.0 L344.3,289.5 L342.8,290.3 L341.0,290.7 L339.7,292.3 L341.0,294.5 L341.9,296.1 L342.3,297.8 L342.4,300.0 L343.0,302.0 L343.0,304.1 L342.7,306.2 L341.6,307.7 L341.3,309.5 L339.7,312.0 L337.7,313.7 L335.6,314.5 L333.5,315.3 L331.5,316.3 L329.3,316.7 L327.3,317.5 L325.2,317.8 L323.1,318.5 L321.0,319.0 L318.9,319.5 L316.8,320.3 L314.6,320.8 L312.7,322.0 L310.7,323.0 L308.5,323.3 L306.8,323.2 L305.2,322.8 L303.0,322.7 L301.0,322.0 L302.7,320.3 L301.1,319.5 L299.3,319.5 L297.7,317.8 L300.2,316.2 L297.7,314.5 L299.2,313.6 L301.0,313.3 L302.9,312.1 L305.2,311.7 L306.6,310.2 L308.5,309.5 L310.1,308.6 L311.8,307.8 L309.3,307.0 L307.6,306.8 L306.0,307.3 L305.0,306.0 L303.5,305.3 L305.3,304.9 L306.8,304.0 L309.0,304.2 L311.0,303.3 L308.5,301.7 L306.4,301.4 L304.3,302.0 L302.6,301.3 L301.0,300.3 L300.2,297.8 L302.7,296.2 L301.2,295.3 L300.2,294.0 L301.0,292.3 L301.0,290.3 L302.8,289.7 L304.3,288.7 L306.5,288.4 L308.5,289.0 L310.1,289.4 L311.8,289.5 L313.9,289.0 L316.0,288.7 L317.7,286.2 L315.2,285.0 L315.2,282.8 M321.0,280.3 L323.5,283.7 L326.8,286.7 L330.2,289.5 L332.3,287.8 L335.7,289.5 L338.0,292.0 L340.7,291.3 M374.3,232.0 L373.2,233.7 L371.8,235.3 L370.7,237.1 L369.3,238.7 L367.8,240.5 L366.0,242.0 L364.6,243.9 L362.7,245.3 L361.5,247.1 L360.2,248.7 L362.2,247.9 L364.3,247.3 L366.0,247.6 L367.7,246.9 L369.3,247.4 L371.0,247.0 L372.7,246.8 L374.3,246.9 L376.0,247.2 L377.7,247.0 L379.6,247.3 L381.6,247.2 L383.5,247.3 L386.0,248.7 L385.9,250.4 L385.2,252.0 L383.9,253.7 L382.7,255.3 L381.5,257.1 L380.2,258.7 L378.7,259.7 L377.7,261.2 L376.1,262.2 L374.3,262.8 L372.7,263.2 L371.0,263.3 L373.0,264.2 L375.2,264.5 L373.5,267.0 L371.4,267.5 L369.3,267.3 L367.7,267.2 L366.0,267.0 L367.9,267.5 L369.9,267.7 L371.8,267.8 L373.8,267.5 L375.7,267.5 L377.7,267.8 L379.5,268.4 L381.0,269.5 L382.5,271.0 L384.3,272.0 L385.7,273.6 L386.8,275.3 L387.5,277.1 L388.5,278.7 L389.1,280.5 L390.2,282.0 L391.5,283.2 L392.7,284.5 L394.4,285.6 L396.0,287.0 L397.5,288.5 L399.3,289.5 L400.5,291.2 L401.8,292.8 L403.5,295.3 L401.9,295.9 L400.2,296.2 L397.7,296.2 L399.3,296.7 L401.0,296.8 L402.7,297.3 L404.4,298.7 L406.0,300.3 L407.1,301.8 L407.7,303.7 L406.3,304.8 L405.2,306.2 L407.3,306.0 L409.3,305.3 L411.0,305.3 L412.7,305.4 L414.3,305.0 L416.1,305.1 L417.7,305.6 L419.3,306.2 L420.6,307.4 L421.8,308.7 L421.8,310.4 L422.3,312.0 L421.4,313.5 L421.0,315.3 L419.8,316.6 L418.5,317.8 L416.0,319.5 L413.5,321.2 L415.2,322.8 L412.7,323.3 L411.0,323.7 L409.3,323.7 L411.0,323.9 L412.7,324.2 L414.3,324.5 L416.4,325.2 L418.5,325.3 L417.7,327.8 L415.2,329.5 L413.1,330.3 L411.0,330.7 L409.3,330.8 L407.6,331.2 L406.0,331.7 L404.3,331.6 L402.7,331.7 L401.0,332.0 L399.3,332.0 L397.7,332.3 L396.0,332.3 L393.9,333.0 L391.8,333.3 L389.3,332.0 L386.8,332.8 L384.8,333.2 L382.7,333.3 L380.6,333.5 L378.5,334.0 L376.4,334.1 L374.3,333.7 L372.7,334.3 L371.0,334.5 L369.3,335.2 L367.7,336.2 L365.6,336.9 L363.5,337.3 L361.8,337.5 L360.2,337.0 L358.6,338.1 L356.8,338.7 L354.7,339.3 L352.7,340.0 L350.6,340.7 L348.5,341.2 L346.0,340.3 L347.8,339.8 L349.3,338.7 L351.2,337.6 L352.7,336.2 L354.5,335.4 L356.0,334.0 L357.6,332.7 L359.3,331.7 L360.9,330.7 L362.7,330.3 L364.7,329.6 L366.8,329.5 L368.9,328.9 L371.0,328.3 L372.7,327.4 L374.3,326.2 L375.6,324.9 L376.8,323.7 L378.0,322.3 L379.3,321.2 L377.7,320.3 L376.0,321.6 L374.3,322.8 L372.2,323.6 L370.2,324.5 L368.1,324.4 L366.0,324.5 L364.4,323.8 L362.7,323.3 L361.1,322.4 L359.3,322.0 L357.3,321.5 L355.2,321.2 L353.4,321.0 L351.8,320.3 L350.2,318.3 L351.9,317.9 L353.5,317.0 L355.5,316.0 L357.7,315.3 L359.4,314.5 L361.0,313.7 L361.8,312.0 L362.7,310.3 L362.4,308.6 L361.8,307.0 L360.1,306.8 L358.5,306.2 L356.0,307.0 L357.1,305.6 L358.5,304.5 L359.2,302.8 L360.2,301.2 L357.7,300.3 L359.7,299.7 L361.8,299.5 L363.7,300.0 L365.7,300.1 L367.7,300.3 L369.3,300.3 L371.0,300.5 L372.7,300.7 L374.4,300.7 L376.0,300.0 L374.3,297.8 L373.9,296.2 L373.5,294.5 L373.7,292.8 L374.3,291.2 L372.7,288.7 L370.2,287.0 L370.0,285.3 L369.3,283.7 L371.1,282.8 L372.7,281.7 L373.5,280.7 L371.4,280.6 L369.3,281.2 L367.3,281.9 L365.2,282.0 L363.5,282.4 L361.8,282.8 L360.1,283.0 L358.5,283.7 L356.8,283.6 L355.2,284.0 L353.5,282.0 L351.8,280.3 M356.0,289.5 L358.0,287.8 L360.2,287.8 L359.3,290.3 L356.8,291.7 L356.0,289.5 M316.0,245.3 L316.7,246.0 M456.0,302.0 L454.8,303.7 L453.5,305.3 L452.9,307.0 L452.5,308.7 L451.8,310.3 L451.3,312.0 L450.5,313.6 L450.2,315.3 L448.7,316.8 L447.7,318.7 L446.0,320.0 L444.3,321.2 L442.7,323.7 L441.0,324.3 L439.3,324.5 L437.6,325.2 L436.0,326.2 L434.0,327.2 L431.8,327.8 L429.8,328.7 L427.7,329.0 L425.9,329.4 L424.3,330.3 L422.7,331.6 L421.0,332.8 L420.4,334.5 L420.2,336.2 L420.5,337.8 L420.7,339.5 L419.4,340.6 L418.5,342.0 L416.8,342.9 L415.2,343.7 L413.2,344.7 L411.0,345.3 L409.0,346.4 L406.8,347.0 L404.7,347.4 L402.7,347.8 L401.0,348.0 L399.3,348.1 L397.7,348.7 L395.5,348.5 L393.5,347.8 L391.9,346.9 L390.2,346.2 L388.5,345.8 L386.8,345.3 L385.2,347.0 L386.8,349.5 L388.5,352.0 M430.2,328.7 L431.8,331.2 L435.2,332.0 L436.8,334.5 L441.0,336.2 L443.5,338.7 L446.8,338.7 L449.3,341.2 L452.7,342.0 L456.0,343.7 M441.0,323.7 L446.0,323.3 L451.0,322.8 L456.0,323.3 M377.7,347.8 L380.2,347.0 M381.5,350.0 L382.3,350.7 M519.3,232.0 L519.5,233.7 L520.2,235.3 L521.3,237.3 L521.8,239.5 L522.7,240.8 L523.2,242.5 L524.3,243.7 L524.9,245.2 L526.3,246.3 L526.8,247.8 L527.9,249.1 L528.6,250.6 L529.3,252.0 L530.2,253.4 L531.1,254.7 L531.8,256.2 L533.4,257.6 L534.3,259.5 L535.8,260.6 L536.8,262.0 L536.0,263.6 L535.7,265.3 L535.9,267.5 L536.8,269.5 L538.1,271.4 L538.5,273.7 L539.3,275.7 L541.0,275.7 L542.7,275.7 L544.8,275.8 L546.8,275.3 L548.3,274.1 L550.2,273.7 L550.9,272.1 L551.0,270.3 L552.0,268.8 L553.5,267.8 L555.6,267.3 L557.7,266.7 L559.3,266.5 L561.0,266.5 L562.7,266.2 L564.7,265.6 L566.8,265.3 L568.5,264.0 L570.2,262.8 L571.1,261.2 L571.8,259.5 L572.6,257.4 L573.5,255.3 L574.2,253.7 L574.6,252.0 L575.2,250.3 L575.5,248.2 L576.0,246.2 L575.1,244.2 L575.2,242.0 L576.1,240.4 L576.8,238.7 L575.2,236.2 L573.5,235.8 L571.8,235.3 L573.9,234.7 L576.0,234.5 L577.7,234.5 L579.4,234.2 L581.0,233.6 L582.7,233.3 L584.3,232.7 L586.0,232.6 L587.6,231.9 L589.3,232.0 M579.3,251.7 L577.7,255.3 L576.0,259.5 L574.3,263.7 L573.5,264.5 L575.2,260.3 L577.3,256.2 L580.2,252.0 L579.3,251.7 M591.0,249.5 L594.3,247.0 L597.7,245.3 L601.8,244.0 L602.7,245.0 L599.3,247.8 L597.7,251.2 L595.2,254.5 L592.7,256.2 L591.0,253.7 L591.0,249.5 M602.0,238.7 L602.7,239.3 M555.7,277.3 L557.7,276.7 L560.2,277.8 L559.3,280.0 L556.8,280.0 L555.7,277.3 M513.5,247.3 L511.5,248.4 L509.3,248.7 L508.0,249.6 L506.8,250.7 L505.2,251.2 L503.8,252.0 L502.4,252.8 L501.0,253.7 L499.0,254.5 L496.8,254.5 L494.7,254.8 L492.7,255.3 L491.7,256.9 L490.2,257.8 L489.1,259.4 L488.5,261.2 L488.0,263.2 L488.0,265.3 L488.2,267.4 L488.5,269.5 L489.4,271.5 L489.3,273.7 L490.2,275.3 L491.0,277.0 L491.5,278.6 L491.8,280.3 L490.6,281.8 L490.2,283.7 L492.7,284.5 L495.2,286.2 L495.9,287.7 L496.0,289.5 L496.1,291.3 L496.8,292.8 L494.3,294.5 L491.8,296.2 L491.0,298.7 L488.5,297.8 L487.7,295.3 L486.0,294.9 L484.3,295.3 L482.7,295.7 L480.9,295.7 L479.4,296.6 L477.7,296.7 L475.9,296.6 L474.3,297.5 L472.7,297.8 L470.9,297.7 L469.3,298.0 L467.7,298.7 L466.1,299.3 L464.3,298.9 L462.7,299.5 L460.5,299.7 L458.5,300.7 L456.0,301.7 M456.0,304.5 L459.3,302.3 L463.5,301.0 L467.7,300.3 M490.2,257.8 L492.2,257.0 L494.3,257.0 L496.5,257.7 L498.5,258.7 L499.4,260.1 L500.7,261.2 L497.7,260.3 L495.9,260.2 L494.3,259.5 L491.8,260.7 M513.5,247.3 L512.7,249.2 L512.7,251.2 L512.0,252.9 L511.0,254.5 L511.1,256.6 L511.8,258.7 L513.5,261.2 L515.3,261.7 L516.8,262.8 L515.2,265.3 L513.5,265.7 L511.8,266.2 L510.6,267.6 L510.2,269.5 L507.7,271.2 L505.2,272.8 L505.0,274.6 L504.3,276.2 L505.4,277.7 L506.0,279.5 L507.7,282.0 L507.2,283.7 L506.8,285.3 L509.3,287.0 L511.5,287.2 L513.5,287.8 L515.3,287.8 L516.8,288.7 L519.3,287.0 L520.2,289.5 L519.1,291.0 L517.7,292.0 L519.8,292.1 L521.8,292.8 L524.1,292.4 L526.0,291.2 L528.2,290.5 L530.2,289.5 L532.4,289.0 L534.3,287.8 L536.4,287.1 L538.5,287.0 L539.9,286.2 L541.0,285.0 L543.5,285.3 L545.2,287.8 L546.8,290.3 L548.3,291.0 L549.3,292.3 L551.0,293.2 L552.7,294.0 L554.3,295.0 M506.8,274.5 L508.5,274.0 L510.2,273.3 L511.9,273.8 L513.5,274.5 L515.2,277.0 L514.5,278.6 L514.3,280.3 L512.7,280.7 L511.0,281.2 L509.4,280.3 L507.7,279.5 L507.7,277.8 L506.8,276.2 L506.8,274.5 M520.2,268.7 L522.3,268.7 L524.3,267.8 L526.4,267.5 L528.5,267.0 L530.2,267.3 L531.8,267.8 L532.9,269.3 L534.3,270.3 L534.4,272.4 L534.0,274.5 L532.5,275.9 L531.8,277.8 L530.5,279.0 L529.3,280.3 L527.7,281.3 L526.0,282.0 L524.4,281.3 L522.7,281.2 L521.4,280.0 L520.2,278.7 L519.0,277.1 L518.5,275.3 L519.2,273.7 L519.3,272.0 L519.3,270.2 L520.2,268.7 M517.7,282.0 L519.7,282.7 L521.8,282.8 L524.0,283.1 L526.0,283.7 L528.5,282.8 L526.8,285.0 L524.8,284.9 L522.7,285.0 L520.7,284.1 L518.5,284.0 L517.7,282.0 M516.0,252.3 L519.3,253.0 M522.3,259.2 L523.3,259.8 M484.8,290.0 L485.7,290.7 M554.3,295.0 L557.7,292.8 L562.7,291.2 L567.7,289.5 L572.7,287.8 L577.7,285.7 L582.7,284.0 L587.7,282.8 L592.7,282.8 L596.0,284.5 L597.7,287.0 L601.0,287.8 L606.0,287.3 L608.5,285.0 L609.3,282.0 L611.8,281.2 L616.0,280.7 M597.7,287.0 L602.7,286.2 L609.3,286.7 L616.0,287.0 M552.7,294.5 L551.8,298.7 L552.3,302.8 L551.0,306.2 L553.5,309.5 L555.2,313.7 L556.0,317.8 L555.2,322.0 L557.7,325.3 L559.3,328.7 L557.7,330.3 M557.7,330.3 L552.7,329.5 L548.5,332.0 L543.5,334.0 L538.5,335.7 L533.5,337.3 L529.3,338.7 L531.0,342.0 L533.5,345.3 L536.0,348.7 L539.3,352.0 M557.7,330.3 L562.7,331.2 L567.7,332.8 L572.7,335.3 L575.2,338.7 L579.3,337.0 L583.5,338.7 L587.7,340.3 L590.2,342.8 L594.3,345.3 L598.5,347.0 L602.7,347.8 L606.0,347.0 L609.3,348.7 L612.7,347.0 L616.0,345.3 M496.0,292.8 L501.0,295.3 L505.7,298.3 M478.5,300.3 L477.7,304.5 L476.8,308.7 L473.5,310.3 L474.3,313.7 L471.8,316.2 L468.5,318.7 L466.0,321.2 L467.7,324.5 L466.0,327.8 L463.5,330.3 L466.0,332.0 M456.0,323.7 L459.3,325.7 L462.7,327.8 L465.2,330.3 L466.8,332.8 L466.0,336.2 L467.7,339.5 L465.2,342.0 L466.0,345.3 L469.3,347.0 L471.8,348.7 L476.0,351.2 L481.0,352.0 M456.0,323.3 L459.3,322.8 L463.5,323.7 L466.0,321.2 M465.2,342.0 L462.7,343.7 L463.5,347.0 L466.0,348.7 L468.5,347.0 M456.0,343.7 L459.3,345.3 L462.7,344.5 M389.3,352.0 L389.5,353.7 L389.7,355.4 L390.2,357.0 L388.6,357.8 L386.8,358.3 L384.7,358.6 L382.7,357.8 L380.7,358.9 L378.5,359.0 L376.3,358.3 L374.3,357.0 L372.3,356.2 L370.2,355.7 L368.1,356.0 L366.0,356.2 L363.9,356.7 L361.8,357.3 L359.7,357.4 L357.7,358.3 L355.2,359.5 L356.8,362.0 L359.3,362.8 L357.8,364.0 L356.0,364.5 L357.4,365.6 L358.5,367.0 L360.6,367.6 L362.7,367.8 L364.8,367.8 L366.8,368.7 L368.7,368.9 L370.2,370.0 L371.9,370.4 L373.5,371.2 L371.8,373.7 L373.4,372.9 L375.2,372.8 L377.2,372.3 L379.3,372.0 L381.2,373.0 L382.7,374.5 L382.2,376.1 L381.8,377.8 L383.0,379.1 L384.3,380.3 L385.8,381.8 L386.8,383.7 L388.0,385.0 L389.3,386.2 L391.0,386.6 L392.7,387.0 L391.0,389.5 L392.5,390.9 L393.5,392.8 L393.5,394.6 L394.3,396.2 L395.8,397.7 L396.8,399.5 L398.2,401.0 L399.0,402.8 L397.7,402.0 L396.1,400.6 L395.2,398.7 L393.5,397.0 L393.2,398.7 L392.8,400.3 L393.0,402.0 L392.6,403.6 L392.9,405.3 L392.7,407.0 L392.6,408.7 L392.6,410.4 L391.8,412.0 L391.4,413.6 L391.2,415.3 L391.0,417.0 L390.5,418.7 L389.7,420.3 L388.5,422.8 M388.5,422.8 L386.6,422.4 L384.6,422.3 L382.7,422.0 L381.0,421.6 L379.3,421.6 L377.7,422.0 L376.0,421.7 L374.4,421.2 L372.6,421.8 L371.0,421.3 L369.3,421.2 L367.7,421.4 L366.0,421.6 L364.4,421.9 L362.7,421.7 L361.0,421.3 L359.3,421.8 L357.7,421.3 L356.0,421.2 L354.4,420.6 L352.6,421.0 L351.0,420.8 L349.3,420.3 L347.7,420.0 L346.0,419.8 L344.3,419.5 L342.6,419.7 L341.0,419.8 L339.3,420.3 L337.6,420.5 L336.0,420.3 L334.3,420.0 L332.3,420.3 L330.2,420.3 L328.3,419.6 L326.8,418.3 L325.2,418.0 L323.5,418.3 L321.7,419.1 L320.2,420.3 L318.4,421.4 L316.8,422.8 L314.8,423.6 L312.7,423.7 L311.2,424.7 L310.2,426.2 L310.4,427.9 L311.0,429.5 L312.3,430.7 L313.5,432.0 L312.7,434.5 L315.2,436.2 L314.3,438.7 M314.3,438.7 L314.0,442.8 L314.7,447.0 L315.2,452.0 L314.3,457.0 L312.7,462.0 L311.0,467.0 L309.3,472.0 M314.3,438.7 L317.7,437.8 L321.0,438.7 L321.0,441.2 L325.2,441.2 L329.3,440.0 L333.5,439.5 L336.8,441.2 L339.7,443.3 L340.7,445.3 L337.7,448.7 L336.0,452.0 L335.2,456.2 L332.7,459.5 L333.5,463.7 L331.8,467.0 L328.5,467.8 L327.7,472.0 M388.5,422.8 L390.1,424.2 L391.8,425.3 L393.9,426.1 L396.0,427.0 L398.2,427.6 L400.2,428.7 L401.9,428.6 L403.5,429.0 L405.2,429.5 L407.2,428.9 L409.3,429.0 L411.5,429.5 L413.5,430.3 L415.5,431.4 L417.7,432.0 L420.2,433.7 L422.3,433.7 L424.3,433.3 L426.4,433.9 L428.5,434.0 L430.6,434.4 L432.7,434.5 L434.7,433.9 L436.8,433.7 M436.8,433.7 L438.5,436.2 L437.7,439.5 L434.3,442.8 L431.0,445.3 L427.7,447.8 L422.7,450.3 L417.7,452.0 L413.5,454.5 L411.0,458.7 L407.7,462.8 L404.3,467.0 L402.7,472.0 M436.8,433.7 L435.2,430.3 L436.8,426.2 L441.0,422.8 L446.0,421.2 L451.0,420.7 L456.0,421.7 M352.3,359.7 L353.0,360.3 M456.0,421.2 L457.6,422.4 L459.3,423.7 L461.4,424.5 L463.5,425.3 L465.5,425.9 L467.7,426.2 L469.8,425.3 L471.8,424.5 L473.1,423.3 L474.7,422.3 L476.0,421.2 L477.6,420.3 L478.7,418.8 L480.2,417.8 L482.0,416.8 L483.5,415.3 L485.0,413.9 L486.8,412.8 L488.9,411.6 L491.0,410.7 L493.1,410.2 L495.2,410.0 L497.2,410.7 L499.3,411.2 L501.3,412.2 L503.5,412.8 L505.1,413.8 L506.8,414.5 L508.2,415.7 L509.3,417.0 L510.0,418.8 L511.0,420.3 L511.5,422.4 L511.8,424.5 L512.8,426.1 L513.5,427.8 L514.6,429.3 L516.0,430.3 L517.2,432.0 L518.5,433.7 L520.1,435.0 L521.8,436.2 L523.4,437.5 L525.2,438.7 L526.6,440.5 L528.5,442.0 L530.2,443.2 L531.8,444.5 L533.4,445.9 L535.2,447.0 L537.2,447.9 L539.3,448.7 L541.3,449.7 L543.5,450.3 L545.2,451.1 L546.8,452.0 L548.5,454.5 L550.1,455.5 L551.8,456.2 L553.5,457.0 L555.2,457.8 L556.5,459.0 L557.7,460.3 L559.0,461.5 L560.2,462.8 L561.8,464.1 L563.5,465.3 L565.0,466.8 L566.0,468.7 L567.1,470.5 L568.5,472.0 M543.5,394.5 L541.5,395.1 L539.3,395.3 L537.3,396.0 L535.2,396.2 L533.6,397.2 L531.8,397.8 L530.8,399.4 L530.2,401.2 L530.7,403.2 L531.0,405.3 L531.6,407.4 L531.8,409.5 L533.3,411.0 L534.3,412.8 L536.2,414.3 L537.7,416.2 L539.3,417.5 L541.0,418.7 L542.6,420.4 L544.3,422.0 L545.1,423.4 L545.9,424.9 L546.8,426.2 L547.9,428.2 L548.5,430.3 L549.7,432.0 L551.0,433.7 L552.7,434.9 L554.3,436.2 L555.9,437.6 L557.7,438.7 L559.7,439.5 L561.8,440.0 L563.9,440.4 L566.0,440.3 L568.1,440.5 L570.2,441.2 L571.0,442.8 L569.3,445.3 L570.9,446.8 L572.7,447.8 L574.7,448.9 L576.8,449.5 L578.8,450.6 L581.0,451.2 L582.5,451.8 L583.9,452.7 L585.2,453.7 L586.7,454.6 L588.1,455.7 L589.3,457.0 L590.9,458.8 L592.7,460.3 L593.3,462.1 L594.3,463.7 L593.5,466.2 L591.0,465.3 L589.8,463.6 L588.5,462.0 L587.0,460.6 L585.2,459.5 L583.5,458.6 L581.8,457.8 L580.2,458.4 L578.5,458.7 L577.4,460.5 L576.0,462.0 L575.6,464.2 L574.7,466.2 L575.2,467.9 L576.0,469.5 L577.7,472.0 M501.0,427.3 L499.7,429.5 L497.7,431.2 L495.2,432.8 L493.5,435.3 L493.5,437.0 L493.0,438.7 L493.6,440.7 L494.0,442.8 L495.0,444.0 L496.0,445.3 L497.5,446.3 L498.5,447.8 L500.2,447.0 L500.4,444.9 L501.0,442.8 L501.2,440.7 L501.8,438.7 L502.3,436.6 L502.3,434.5 L502.0,432.4 L501.8,430.3 L501.0,427.3 M491.8,472.0 L491.4,470.4 L491.6,468.6 L491.0,467.0 L490.7,465.1 L490.7,463.1 L490.2,461.2 L489.7,459.5 L488.7,458.0 L488.5,456.2 L488.8,454.1 L489.3,452.0 L491.8,450.3 L493.9,449.9 L496.0,449.5 L497.7,449.5 L499.3,449.0 L501.8,450.3 L502.8,451.9 L503.5,453.7 L504.2,455.8 L505.2,457.8 L504.9,459.5 L504.8,461.2 L504.3,462.8 L503.8,464.7 L504.1,466.8 L503.5,468.7 L503.5,470.4 L504.0,472.0 M504.8,425.8 L505.5,426.5 M509.0,429.7 L511.3,429.3 M516.5,434.2 L517.2,434.8 M532.3,439.7 L533.0,440.3 M542.3,453.7 L543.0,454.3 M547.3,454.7 L548.0,455.3 M531.8,415.3 L532.7,416.0 M602.7,440.3 L603.4,442.4 L603.5,444.5 L604.1,446.5 L604.3,448.7 L604.2,450.4 L603.5,452.0 L603.5,453.7 L603.2,455.3 L603.0,457.0 L602.7,458.7 L603.3,460.4 L604.3,462.0 L605.7,463.1 L606.8,464.5 L608.1,465.7 L609.3,467.0 L611.0,468.7 L610.6,470.3 L610.2,472.0 M466.0,387.8 L467.0,386.2 L467.8,384.6 L468.5,382.8 L470.2,381.2 L471.8,379.5 L473.2,378.0 L474.5,376.6 L476.0,375.3 L477.6,374.1 L479.4,373.3 L481.0,372.0 L482.7,371.6 L484.4,371.3 L486.0,370.7 L487.9,370.2 L489.9,370.2 L491.8,370.0 L493.8,370.3 L495.7,370.3 L497.7,370.3 L499.4,370.7 L501.0,371.4 L502.7,372.0 L502.9,373.7 L503.5,375.3 L505.6,376.0 L507.7,377.0 L509.4,377.7 L511.0,378.7 L511.5,380.3 L511.8,382.0 L510.5,383.2 L509.3,384.5 L507.9,385.6 L506.8,387.0 L505.4,385.9 L504.3,384.5 L502.8,385.5 L501.0,386.2 L500.0,387.9 L498.9,389.6 L497.7,391.2 L495.2,389.5 L493.5,387.8 L491.8,386.2 L490.3,387.6 L488.5,388.7 L486.5,389.6 L484.3,390.3 L482.2,390.1 L480.2,389.5 L478.0,390.1 L476.0,391.2 L474.4,389.8 L472.7,388.7 L471.2,387.6 L470.2,386.2 L468.0,386.7 L466.0,387.8 M476.0,391.2 L475.4,393.3 L474.3,395.3 L473.8,397.0 L472.9,398.6 L472.7,400.3 L474.2,402.1 L476.0,403.7 L475.4,405.7 L475.2,407.8 L476.4,409.5 L477.7,411.2 L479.1,411.8 L480.4,412.9 L481.8,413.7 L483.5,415.3 M473.5,352.0 L479.3,352.3 L486.8,353.7 L487.7,354.5 L485.2,360.3 L482.7,367.0 L481.8,371.2 M503.5,372.8 L505.5,372.9 L507.4,373.2 L509.3,373.7 L511.3,373.3 L513.2,372.8 L515.2,372.8 L517.1,372.2 L519.1,371.9 L521.0,371.2 L522.7,371.0 L524.3,370.6 L526.0,370.4 L527.7,370.0 L529.6,369.8 L531.5,369.5 L533.5,369.5 L535.6,370.4 L537.7,371.2 L538.0,369.5 L538.5,367.8 L537.4,366.1 L536.0,364.5 L537.8,363.9 L539.3,362.8 L541.0,362.0 L542.7,360.9 L544.4,359.9 L546.0,358.7 L544.7,357.5 L543.5,356.2 L542.7,354.5 L540.9,353.4 L539.3,352.0 M546.0,358.7 L548.0,358.5 L549.9,358.3 L551.8,357.8 L553.8,357.2 L555.8,356.3 L557.7,355.3 L559.4,355.3 L561.0,355.0 L562.7,354.8 L564.3,354.5 L566.0,354.9 L567.7,355.2 L569.3,355.8 L571.0,356.2 L572.7,356.2 L574.3,356.7 L576.0,357.0 L577.7,356.7 L579.3,356.2 L581.1,355.4 L582.7,354.6 L584.3,353.7 L586.2,353.0 L588.2,352.5 L590.2,352.0 M579.3,357.0 L579.6,358.7 L579.8,360.3 L580.2,362.0 L579.7,363.7 L579.0,365.3 L578.5,367.0 L576.7,368.5 L575.2,370.3 L574.8,372.1 L574.0,373.6 L573.5,375.3 L572.9,377.4 L572.7,379.5 L571.0,380.1 L569.3,380.6 L567.7,381.2 L565.9,381.5 L564.4,382.5 L562.7,382.8 L561.0,383.1 L559.4,383.6 L557.7,383.7 L556.0,383.8 L554.3,384.0 L552.7,384.5 L551.0,384.2 L549.3,384.2 L547.7,383.7 L545.6,383.2 L543.5,382.8 L541.8,382.5 L540.2,382.1 L538.5,382.0 L536.8,381.4 L535.2,380.8 L533.5,380.3 L531.5,379.3 L529.3,378.7 L527.7,378.4 L526.0,378.2 L524.3,377.8 L522.6,377.8 L521.0,378.6 L519.3,378.7 L517.2,379.4 L515.2,380.3 L513.5,381.2 L511.8,382.0 M552.7,384.5 L550.7,384.3 L548.8,384.7 L546.8,384.5 L545.1,384.6 L543.5,385.3 L543.2,387.4 L542.7,389.5 L543.2,391.1 L543.4,392.8 L543.5,394.5 L545.6,395.3 L547.7,396.2 L549.3,395.6 L551.0,395.6 L552.7,395.3 L554.8,396.1 L556.8,397.0 L559.0,396.3 L561.0,395.3 L561.8,393.6 L562.7,392.0 L564.3,391.0 L566.0,390.3 L567.6,389.0 L569.3,387.8 L570.7,386.3 L571.8,384.5 L572.4,382.9 L572.4,381.2 L572.7,379.5 M571.8,384.5 L576.0,387.8 L581.0,390.3 L587.7,392.0 L594.3,392.0 L599.3,391.2 L604.3,389.5 L609.3,390.3 L616.0,389.5 M579.3,357.0 L580.2,364.5 L584.3,367.8 L591.0,368.7 L597.7,367.0 L602.7,364.5 L607.7,362.8 L612.7,360.3 L616.0,358.7 M599.3,402.0 L596.8,400.3 L591.0,401.2 L584.3,400.3 L577.7,399.5 L571.0,400.3 L566.0,401.2 L567.7,404.5 L571.0,408.7 L572.7,412.8 L576.8,416.2 L581.0,420.3 L585.2,423.7 L589.3,427.0 L593.5,430.3 L597.7,433.7 L601.0,435.3 L602.7,440.3 M599.3,391.2 L601.0,395.3 L602.7,399.5 L599.3,402.0 L602.7,405.3 L601.0,409.5 L603.5,414.5 L604.3,419.5 L601.0,422.0 L598.5,423.7 L596.8,427.0 L595.2,430.3 L597.7,433.7 M598.5,423.7 L603.5,426.2 L608.5,427.8 L612.7,429.5 L612.7,432.8 L608.5,432.0 L605.2,433.7 L606.0,437.0 L602.7,440.3 M612.7,432.8 L613.5,438.7 L614.3,445.3 L615.2,452.0 L612.7,458.7 L611.8,463.7 L610.2,468.7 M612.7,432.8 L616.0,434.5 M616.0,280.7 L618.5,280.3 L621.0,278.7 L621.7,276.9 L622.7,275.3 L622.6,273.6 L622.0,272.0 L621.8,270.3 L621.4,268.7 L621.1,267.0 L621.0,265.3 L621.2,263.7 L621.2,262.0 L621.0,260.3 L621.6,258.7 L622.1,257.0 L622.7,255.3 L623.8,253.7 L624.8,251.9 L626.0,250.3 L628.5,249.5 L630.1,249.2 L631.5,248.3 L633.0,247.9 L634.6,247.4 L636.0,246.7 L637.6,247.2 L639.3,247.4 L641.0,247.8 L641.9,249.2 L642.6,250.6 L643.5,252.0 L645.3,253.1 L646.8,254.5 L648.5,254.4 L650.2,253.9 L651.8,253.7 L653.1,252.1 L653.9,250.3 L655.2,248.7 L655.4,247.0 L655.6,245.3 L656.0,243.7 L656.0,241.6 L656.0,239.5 L654.6,238.4 L653.5,237.0 L655.2,234.5 L654.3,232.0 M621.8,266.2 L627.7,263.7 L634.3,262.8 L641.0,263.7 L647.7,263.3 L654.3,263.7 L660.2,262.8 L664.3,265.3 L669.3,267.8 L674.3,271.2 L678.5,273.7 L680.2,276.7 M656.0,243.7 L661.0,242.8 L666.0,243.7 L671.0,245.3 L676.8,247.8 L681.8,248.7 L687.7,247.8 L689.3,245.3 L688.5,240.3 L686.8,235.3 L687.7,232.0 M689.3,245.3 L687.7,250.3 L689.3,255.3 L691.8,260.3 L693.5,265.3 L691.0,267.8 L686.0,269.5 L681.0,271.2 L678.5,273.7 M693.5,265.3 L698.5,267.8 L703.5,267.8 L706.8,271.2 L712.7,270.7 L717.7,271.2 L721.0,273.7 L722.7,278.7 L721.8,282.0 L725.2,286.2 L728.5,289.5 L732.7,292.0 L736.0,296.2 L740.2,299.5 L736.8,302.0 L731.8,302.8 L727.7,304.5 L726.8,307.8 L729.3,311.2 L731.0,315.3 M680.2,276.7 L677.7,279.5 L673.5,281.2 L670.2,285.3 L667.7,289.5 L666.0,290.0 L661.0,291.2 L655.2,292.8 L650.2,293.3 L646.0,292.0 L643.5,289.5 L638.5,287.8 L631.0,287.8 L622.7,287.8 L616.0,287.8 M667.3,289.2 L668.7,289.2 L668.7,290.5 L667.3,290.5 L667.3,289.2 M638.5,287.8 L637.7,283.7 L634.3,280.3 L630.2,279.5 L626.0,277.8 L622.3,276.2 M646.0,292.0 L647.7,297.8 L650.2,303.7 L648.5,308.7 L644.3,312.8 L646.0,317.0 L647.7,321.2 L653.5,319.5 L660.2,318.3 L667.7,317.8 L675.2,318.7 L681.8,319.5 L687.7,322.0 L690.2,322.8 L694.3,322.0 L699.3,322.8 L704.3,322.0 L709.3,323.3 L714.3,322.8 L717.7,325.3 L720.2,322.8 L724.3,318.7 L731.0,315.3 L736.0,313.7 L742.7,312.8 L749.3,313.7 L754.3,315.3 L757.7,318.7 L756.8,322.8 L761.0,325.3 L766.0,327.8 L768.5,332.0 L771.0,336.2 L776.0,337.0 M647.7,321.2 L646.8,325.3 L649.3,328.7 L651.8,332.0 L649.3,336.2 L645.2,340.3 L641.0,344.5 L637.7,348.7 L636.8,352.0 L631.0,351.2 L626.0,349.5 L621.0,348.7 L616.0,349.5 M616.0,359.5 L622.7,358.7 L631.0,360.3 L632.7,356.2 L634.3,352.0 M631.0,360.3 L635.2,363.7 L639.3,366.2 L646.0,365.3 L652.7,366.2 L659.3,368.7 L664.3,367.0 L669.3,365.3 L674.3,362.8 L680.2,361.2 M639.3,366.2 L635.2,370.3 L631.0,374.5 L627.7,379.5 L624.3,383.7 L621.0,387.0 L616.0,389.5 M680.2,361.2 L681.3,362.4 L681.7,364.0 L682.7,365.3 L683.6,366.9 L684.5,368.6 L685.2,370.3 L686.1,371.9 L686.8,373.7 L687.7,375.3 L688.5,376.7 L689.3,378.2 L690.2,379.5 L690.9,380.9 L691.9,382.2 L692.7,383.7 L693.0,385.4 L693.6,387.1 L694.3,388.7 L694.3,390.4 L693.6,392.0 L693.5,393.7 L694.3,396.2 M680.2,361.2 L682.2,361.0 L684.1,360.6 L686.0,360.0 L687.7,360.2 L689.3,361.0 L691.0,361.2 L692.6,362.1 L694.5,362.6 L696.0,363.7 L697.8,364.7 L699.3,366.2 L701.8,367.8 L702.9,369.7 L704.3,371.2 L705.1,372.6 L706.1,373.9 L706.8,375.3 L707.9,376.6 L708.7,378.0 L709.3,379.5 L711.1,381.1 L712.7,382.8 L711.0,385.3 L708.9,384.8 L706.8,384.5 L704.8,385.0 L702.7,385.3 L702.0,387.5 L701.0,389.5 L700.0,390.8 L699.2,392.2 L698.5,393.7 L697.0,395.3 L695.2,396.7 M694.3,396.2 L695.9,397.0 L697.6,397.4 L699.3,397.8 L701.0,397.8 L702.7,397.4 L704.3,397.0 L706.5,396.9 L708.5,396.2 L709.5,394.6 L710.2,392.8 L711.7,391.9 L712.8,390.4 L714.3,389.5 L716.1,387.9 L717.7,386.2 L719.3,384.9 L721.0,383.7 L723.1,383.4 L725.2,382.8 L727.2,382.8 L729.3,382.8 L731.1,382.3 L732.7,381.2 L731.9,379.5 L731.0,377.8 L730.2,375.3 L732.7,377.0 L734.1,378.6 L735.2,380.3 L736.7,381.0 L738.1,381.8 L739.3,382.8 L737.7,383.7 L736.0,384.5 L734.0,385.7 L731.8,386.2 L729.3,385.3 L731.0,386.6 L732.7,387.8 L734.3,387.5 L736.0,387.8 L737.7,387.8 L739.3,387.8 L741.3,388.4 L743.1,389.2 L745.2,389.5 L747.0,389.7 L748.4,390.9 L750.2,391.2 L747.7,392.8 L746.0,393.4 L744.3,393.9 L742.7,394.5 L740.9,395.6 L739.3,397.0 L740.8,398.5 L742.7,399.5 L744.4,400.2 L746.0,401.1 L747.7,402.0 L748.2,403.8 L749.3,405.3 L750.9,406.8 L751.8,408.7 L754.3,409.5 L756.0,408.8 L757.7,407.9 L759.3,407.0 L760.8,405.8 L762.7,405.4 L764.3,404.5 L766.0,404.1 L767.8,403.7 L769.3,402.8 L771.0,402.1 L772.8,402.1 L774.3,401.2 L776.0,400.7 M776.0,381.7 L774.3,382.0 L772.7,382.5 L771.0,383.1 L769.3,383.7 L767.8,384.2 L766.7,385.7 L765.2,386.2 L763.8,387.7 L762.7,389.5 L763.0,391.6 L763.5,393.7 L765.3,395.2 L766.8,397.0 L769.3,398.7 L771.0,399.0 L772.7,398.6 L774.3,398.7 L776.0,398.3 M708.5,396.2 L709.3,400.3 L706.8,402.8 L702.7,404.5 L701.0,407.8 L699.3,412.0 L698.5,416.2 L697.7,418.7 L697.7,421.7 M697.7,421.7 L692.7,418.7 L687.7,416.2 L682.7,415.0 L676.8,414.0 L671.0,416.2 L665.2,417.8 L659.3,417.3 L653.5,416.2 L647.7,417.0 L642.7,416.2 L639.3,413.7 L636.8,409.5 L636.0,407.0 L631.8,406.2 L628.5,403.7 L625.2,400.3 L623.5,396.2 L619.3,393.7 L616.0,390.3 M636.8,409.5 L635.2,414.5 L636.8,418.7 L639.3,422.0 L641.0,426.2 L638.5,429.5 L636.0,432.0 L635.2,435.3 L639.3,438.7 L641.0,442.8 L640.2,447.0 M697.7,421.7 L694.3,422.8 L691.8,426.2 L691.0,430.3 L691.8,434.5 L690.2,437.8 L692.7,441.2 L696.0,444.5 L700.2,447.0 L704.3,448.7 L709.3,449.5 L714.3,450.0 L719.3,450.3 L724.3,449.5 L728.5,447.8 L732.7,445.3 L737.7,442.8 L742.7,441.2 L747.7,440.0 L752.7,439.5 L757.7,438.7 L762.7,438.7 L767.7,440.3 L772.7,442.0 L776.0,442.8 M690.2,437.8 L685.2,438.7 L680.2,440.3 L676.0,442.8 L672.7,445.3 L673.5,448.7 L669.3,447.8 L664.3,447.0 L659.3,447.8 L654.3,446.2 L649.3,447.0 L644.3,447.8 L640.2,447.0 L632.7,447.8 L626.0,449.5 L621.0,452.0 L617.7,453.7 L616.0,452.8 M673.5,448.7 L675.2,452.0 L677.7,455.3 L676.8,458.7 M677.7,457.0 L679.7,456.6 L681.8,456.2 L683.2,455.1 L684.7,454.1 L686.0,452.8 L688.0,452.2 L690.2,452.0 L692.2,451.8 L694.3,451.7 L696.0,451.7 L697.7,451.9 L699.3,452.0 L701.3,453.1 L703.5,453.7 L705.2,453.8 L706.8,454.5 L708.5,454.5 L710.2,454.7 L711.8,455.0 L709.7,455.6 L707.7,456.2 L706.1,456.9 L704.3,457.3 L702.7,457.8 L700.5,457.9 L698.5,458.7 L696.4,458.1 L694.3,457.8 L692.2,458.0 L690.2,458.7 L688.1,458.8 L686.0,458.7 L684.4,459.6 L682.7,460.3 L680.2,459.5 L678.5,459.2 L676.8,458.7 M700.2,447.0 L699.3,452.0 M666.0,458.0 L668.0,458.7 L666.7,459.7 L666.0,458.0 M670.3,461.3 L672.0,462.0 M663.0,464.7 L665.3,465.3 L664.0,466.7 L663.0,464.7 M616.0,438.7 L622.7,437.0 L629.3,436.2 L635.2,435.3 M616.0,423.7 L621.0,425.3 L625.2,428.7 L627.7,432.0 L626.0,435.3 M607.3,466.7 L609.3,466.0 L611.3,468.3 L611.7,471.3 L609.3,470.7 L608.0,468.8 L607.3,466.7 M615.7,480.7 L618.0,481.3 L618.6,483.3 L619.7,485.0 L618.9,486.8 L619.0,488.7 L616.7,490.7 L616.1,489.1 L615.3,487.7 L617.0,485.0 L616.2,482.9 L615.7,480.7 M671.8,472.8 L673.6,472.1 L675.2,471.2 L676.8,471.6 L678.5,472.0 L677.7,475.0 L675.9,475.3 L674.3,476.2 L671.8,475.0 L671.8,472.8 M671.8,482.0 L674.0,481.2 L674.3,482.8 L674.3,484.5 L672.3,485.7 L672.4,483.8 L671.8,482.0 M677.7,488.7 L679.4,488.4 L681.0,487.8 L681.8,489.5 L680.2,490.2 L678.5,490.3 L677.7,488.7 M662.7,464.5 L664.3,463.8 L666.0,463.7 L666.8,466.2 L665.1,466.5 L663.5,467.0 L662.7,464.5 M657.3,476.3 L659.3,478.0 M661.0,489.5 L662.1,490.9 L663.5,492.0 L664.9,492.8 L666.0,494.0 M669.0,498.3 L670.6,499.2 L672.0,500.3 L669.7,501.0 L669.0,498.3 M665.7,499.3 L667.7,501.3 M684.3,502.8 L686.4,503.4 L688.5,503.7 M691.0,508.7 L693.5,507.0 L694.7,508.3 L693.4,510.3 L691.8,512.0 L690.2,512.8 L690.8,510.8 L691.0,508.7 M682.7,516.2 L684.3,518.7 L683.5,520.3 M640.0,509.3 L641.3,511.3 M644.0,514.3 L644.7,515.0 M652.0,526.7 L652.7,527.3 M656.0,502.8 L658.5,504.5 M662.3,503.3 L663.3,504.3 M666.8,505.0 L668.0,506.3 M671.5,505.0 L672.7,506.0 M675.7,504.7 L677.0,506.0 M672.3,489.3 L675.3,490.0 M667.3,457.0 L668.7,458.0 M658.0,455.3 L659.3,456.3 M677.7,482.0 L679.7,483.0 M676.0,496.2 L678.0,497.3 M681.0,498.7 L682.7,500.0 M686.0,506.2 L688.0,507.3 M666.8,510.3 L668.7,511.3 M654.3,495.3 L655.7,497.3 M659.3,497.8 L661.0,499.0 M681.0,517.0 L682.0,518.0 M314.3,462.0 L313.8,463.8 L312.8,465.4 L311.8,467.0 L311.0,468.7 L310.1,470.3 L309.3,472.0 L308.6,473.9 L308.0,475.8 L307.7,477.8 L309.1,478.9 L310.2,480.3 L312.7,478.7 L312.1,480.3 L311.8,482.0 L314.3,482.8 L313.9,484.8 L313.6,486.7 L313.5,488.7 L313.2,490.6 L313.1,492.6 L312.7,494.5 L312.3,496.3 L312.3,498.2 L312.3,500.0 L314.6,499.9 L316.8,499.5 L318.5,499.9 L320.2,499.7 L321.8,500.0 L323.4,499.3 L325.2,499.0 L328.0,497.8 M328.0,497.8 L327.8,496.2 L327.7,494.5 L327.3,492.8 L328.2,491.1 L329.3,489.5 L330.7,488.4 L331.8,487.0 L331.2,485.2 L330.2,483.7 L330.3,482.0 L330.8,480.3 L331.0,478.7 L330.5,477.0 L329.9,475.3 L329.3,473.7 L329.6,471.5 L330.2,469.5 L327.7,467.8 L329.7,466.9 L331.8,466.2 L332.8,464.1 L333.5,462.0 M328.0,497.8 L329.9,498.3 L331.8,498.3 L333.5,499.5 L335.2,500.7 L337.0,502.0 L338.5,503.7 L339.2,505.2 L340.0,506.5 L341.0,507.8 L342.8,509.4 L344.3,511.2 L346.8,512.8 L348.5,511.2 L350.2,509.5 L352.0,508.4 L353.5,507.0 L355.7,506.2 L357.7,505.0 L359.3,504.6 L361.0,504.1 L362.7,503.7 L364.3,503.7 L366.0,503.5 L367.7,503.7 L369.3,503.6 L371.0,503.7 L372.7,504.0 L374.3,503.9 L376.0,503.5 L377.7,503.3 L379.8,502.7 L381.8,502.0 L383.5,500.5 L385.2,499.0 L386.3,497.8 L387.2,496.4 L388.5,495.3 L389.7,494.3 L391.4,493.9 L392.7,492.8 L394.7,492.3 L396.8,492.0 L397.5,490.2 L398.5,488.7 L399.4,487.3 L400.3,486.0 L401.0,484.5 L402.5,482.7 L404.3,481.2 L405.6,480.0 L406.8,478.7 L405.5,477.5 L404.3,476.2 L403.1,474.5 L401.8,472.8 L401.8,471.1 L402.1,469.5 L402.7,467.8 L403.8,466.6 L404.5,465.2 L405.2,463.7 L406.3,462.0 M348.5,514.0 L349.3,515.5 L350.2,517.0 L351.4,518.3 L352.7,519.5 L354.4,520.5 L356.0,521.7 L358.0,522.4 L360.2,522.8 L362.2,522.4 L364.3,522.0 L366.0,522.0 L367.7,521.6 L369.3,521.2 L371.5,520.9 L373.5,520.3 L374.6,521.8 L376.0,522.8 L378.1,523.3 L380.2,524.0 L382.2,523.1 L384.3,522.8 L386.4,521.8 L388.5,521.2 L389.8,520.2 L391.1,519.3 L392.7,518.7 L394.2,517.2 L396.0,516.2 L397.7,515.6 L399.4,515.3 L401.0,514.5 L402.7,513.6 L404.5,513.1 L406.0,512.0 L407.8,511.4 L409.2,510.1 L411.0,509.5 L412.7,508.8 L414.3,508.0 L416.0,507.3 L417.9,506.6 L420.0,506.5 L421.8,505.7 L423.7,505.1 L425.7,504.9 L427.7,504.5 L429.4,504.2 L431.1,503.9 L432.7,503.3 L434.3,502.8 L436.0,502.6 L437.7,502.4 L439.3,502.0 L441.0,502.0 L442.7,502.2 L444.3,502.1 L446.0,501.6 L447.7,501.7 L449.3,501.5 L451.0,501.7 L452.7,501.8 L454.3,502.2 L456.0,502.0 M348.5,514.0 L345.2,515.3 L343.5,517.8 L341.8,522.0 L340.2,527.0 L337.7,532.0 L335.2,536.2 L331.0,539.5 L326.0,542.0 L321.0,544.5 L316.8,547.8 L313.5,552.0 L310.2,557.0 L307.7,562.0 L305.2,567.8 L303.5,573.7 L304.3,582.0 M380.2,524.0 L382.7,525.3 L383.7,526.8 L385.2,527.8 L385.8,530.0 L386.8,532.0 L386.7,534.1 L386.0,536.2 L386.4,537.9 L387.0,539.5 L387.7,541.2 L387.4,543.2 L387.3,545.3 L387.6,547.5 L388.5,549.5 L390.0,551.0 L391.0,552.8 L392.4,553.9 L393.5,555.3 L392.9,557.0 L392.7,558.7 L390.9,559.3 L389.3,560.3 L387.7,560.3 L386.0,560.7 L384.3,560.7 L382.7,560.6 L381.0,560.5 L379.3,560.7 L377.3,561.6 L375.2,562.0 L374.3,564.5 L372.3,565.4 L370.2,566.2 L368.6,567.1 L366.8,567.8 L366.6,569.6 L366.0,571.2 L367.3,572.4 L368.5,573.7 L368.3,575.8 L367.7,577.8 L366.1,578.8 L364.3,579.5 L362.3,580.5 L360.2,581.2 L358.5,582.0 M417.3,476.2 L419.3,474.5 L421.0,475.7 L420.2,478.7 L418.5,480.0 L417.3,476.2 M429.3,468.7 L430.7,467.5 L431.8,466.2 L433.4,465.1 L435.2,464.5 L436.8,465.0 L438.5,465.3 L439.7,467.8 L438.8,469.6 L437.7,471.2 L436.6,472.6 L435.2,473.7 L434.1,472.2 L432.7,471.2 L430.9,470.1 L429.3,468.7 M444.3,463.7 L446.8,462.8 L449.0,464.0 L447.7,466.2 L445.2,465.7 L444.3,463.7 M491.8,462.0 L491.4,463.6 L491.3,465.3 L491.3,467.0 L490.7,468.6 L490.8,470.4 L490.2,472.0 L489.3,474.5 L491.8,476.2 L493.5,476.6 L495.2,477.0 L496.8,474.5 L499.3,473.7 L500.9,473.0 L502.7,472.8 L503.7,470.8 L504.3,468.7 L504.5,467.0 L504.2,465.3 L504.1,463.7 L504.0,462.0 M531.8,488.7 L533.9,487.7 L536.0,487.0 L537.6,487.6 L539.3,487.9 L541.0,488.3 L542.9,488.8 L544.9,488.9 L546.8,489.5 L548.8,489.1 L550.7,488.7 L552.7,488.7 L554.4,488.2 L556.0,487.6 L557.7,487.0 L559.3,486.2 L561.1,486.1 L562.7,485.3 L565.7,484.5 L565.1,486.2 L564.3,487.8 L563.5,489.5 L562.7,491.2 L562.0,492.9 L561.0,494.5 L560.7,496.2 L560.2,497.8 L560.8,499.6 L561.8,501.2 L560.2,503.7 L558.1,503.6 L556.0,503.3 L553.8,502.4 L551.8,501.2 L550.4,500.3 L549.0,499.6 L547.7,498.7 L546.4,497.6 L544.8,497.2 L543.5,496.2 L542.3,495.1 L540.6,494.7 L539.3,493.7 L537.6,492.6 L535.7,492.0 L534.2,491.2 L532.7,490.7 L531.8,488.7 M562.7,462.0 L564.5,463.5 L566.0,465.3 L567.1,466.7 L568.3,468.0 L569.3,469.5 L570.0,471.1 L570.6,472.8 L571.0,474.5 L570.9,476.6 L570.7,478.7 L569.3,480.6 L568.5,482.8 L567.0,484.3 L566.0,486.2 L566.8,488.7 L568.6,488.1 L570.2,487.0 L571.2,485.2 L572.7,483.7 L573.4,482.2 L574.5,481.0 L575.2,479.5 L577.2,478.4 L579.3,477.8 L580.3,476.2 L581.0,474.5 L580.5,472.4 L580.2,470.3 L579.1,468.5 L577.7,467.0 L576.2,466.0 L575.2,464.5 L576.0,462.0 M539.0,479.2 L539.7,479.8 M552.3,481.3 L553.3,482.0 M556.5,481.7 L557.5,482.3 M562.3,478.3 L563.0,479.0 M527.3,502.5 L528.3,503.5 M550.7,512.0 L552.7,512.8 L554.7,515.0 L553.0,515.3 L551.0,513.7 L550.7,512.0 M533.2,518.3 L533.8,519.0 M536.5,514.2 L537.2,514.8 M528.7,488.3 L529.3,489.0 M456.0,502.8 L458.0,503.8 L460.2,504.5 L461.8,503.6 L463.4,502.6 L465.2,502.0 L466.7,501.1 L468.6,500.9 L470.2,500.0 L471.8,500.4 L473.5,500.6 L475.2,501.2 L477.1,501.4 L479.0,502.0 L481.0,502.0 L483.0,502.1 L484.9,502.6 L486.8,502.8 L488.5,502.3 L490.1,502.1 L491.8,502.0 L493.3,501.3 L494.7,500.4 L496.0,499.5 L497.6,498.6 L499.2,497.8 L501.0,497.3 L502.6,496.9 L504.3,497.0 L506.0,496.7 L507.5,497.7 L509.0,498.7 L509.7,500.7 L510.2,502.8 L511.8,502.2 L513.5,502.0 L515.2,501.1 L516.8,500.0 L518.5,501.2 L517.8,502.8 L517.3,504.5 L515.7,505.8 L514.3,507.3 L513.5,509.2 L512.7,511.2 L513.7,513.2 L514.3,515.3 L515.8,516.8 L516.8,518.7 L517.5,520.4 L518.5,522.0 L518.1,524.1 L517.7,526.2 L515.9,527.7 L514.3,529.5 L513.1,530.6 L511.5,531.0 L510.2,532.0 L509.0,533.7 L507.7,535.3 L508.3,537.1 L509.3,538.7 L510.6,539.7 L512.1,540.3 L513.5,541.2 L515.2,541.3 L516.8,542.0 L518.5,544.5 L520.0,545.9 L521.8,547.0 L523.9,547.8 L526.0,548.7 L527.6,549.3 L529.4,549.4 L531.0,550.0 L532.7,550.2 L534.3,551.0 L536.0,551.2 L537.7,551.1 L539.3,551.0 L541.0,551.2 L542.7,551.4 L544.3,551.8 L546.0,552.0 L547.8,552.3 L549.3,553.1 L551.0,553.7 L552.7,554.2 L554.3,554.8 L556.0,555.3 L557.5,556.0 L558.7,557.1 L560.2,557.8 L560.8,559.3 L561.6,560.7 L562.7,562.0 L563.6,564.0 L564.3,566.2 L565.9,567.5 L567.7,568.7 L569.4,569.2 L571.0,569.9 L572.7,570.3 L574.4,570.4 L576.0,571.1 L577.7,571.2 L579.3,571.6 L581.0,571.6 L582.7,571.8 L584.3,572.0 L586.0,572.8 L587.7,573.7 L589.3,574.5 L591.2,575.4 L592.5,577.0 L594.3,577.8 L595.6,579.1 L596.7,580.5 L597.7,582.0 M514.3,539.0 L516.3,538.3 L517.7,540.3 L516.8,543.3 L514.7,542.8 L514.3,539.0 M517.7,528.3 L520.2,527.3 L520.7,528.7 L518.5,529.7 L517.7,528.3 M491.8,502.0 L490.2,506.2 L489.3,511.2 L490.2,516.2 L491.0,521.2 L489.3,526.2 L486.8,530.3 L483.5,533.7 L481.8,537.0 L482.7,541.2 L485.2,545.3 L488.5,549.5 L491.8,553.7 L495.2,557.8 L497.7,562.0 L499.0,567.0 L500.2,572.8 L501.0,578.7 L501.3,582.0 M521.8,547.0 L522.7,552.0 L522.3,556.2 L519.3,558.7 L515.2,562.0 L511.8,565.3 L509.3,568.7 L509.0,572.8 L510.2,577.0 L508.5,582.0 M616.0,555.3 L612.7,558.7 L610.2,563.7 L609.3,568.7 L611.0,573.7 L610.2,578.7 L608.5,582.0 M736.0,506.7 L737.3,507.8 L738.3,509.0 L739.3,510.3 L741.0,510.9 L742.7,511.0 L744.3,511.7 L745.9,511.0 L747.7,510.9 L749.3,510.3 L751.4,509.2 L753.5,508.3 L754.7,507.1 L756.3,506.4 L757.7,505.3 L759.8,504.4 L761.8,503.3 L763.9,503.1 L766.0,502.8 L768.1,503.3 L770.2,503.7 L772.7,502.0 L775.2,501.7 L776.3,504.5 L775.9,506.2 L775.2,507.8 L774.2,509.4 L773.5,511.2 L772.7,513.7 L772.7,515.3 L773.1,517.0 L773.0,518.7 L773.5,520.3 L773.7,522.0 L774.0,523.7 L774.2,525.3 L774.6,527.0 L774.7,528.7 L773.5,531.2 L772.8,533.3 L771.8,535.3 L771.3,537.0 L770.9,538.7 L770.2,540.3 L769.6,542.0 L768.9,543.6 L768.5,545.3 L768.3,547.0 L767.7,548.7 L767.3,550.3 L766.8,552.0 L766.6,553.7 L766.0,555.3 L765.4,557.0 L764.9,558.6 L764.7,560.3 L764.3,562.0 L763.9,563.7 L763.5,565.3 L762.8,566.9 L762.4,568.7 L761.8,570.3 L759.8,571.2 L757.7,572.0 L756.0,572.1 L754.3,572.4 L752.7,572.8 L751.0,572.6 L749.3,572.4 L747.7,572.0 L746.0,572.5 L744.3,572.9 L742.7,573.3 L740.7,572.4 L738.5,572.0 L737.2,571.0 L735.8,570.2 L734.3,569.5 L732.7,568.8 L731.0,568.3 L729.3,568.3 L727.7,568.7 L725.5,568.0 L723.5,567.0 L721.4,567.4 L719.3,567.8 L717.2,568.5 L715.2,569.5 L713.7,570.1 L712.5,571.3 L711.0,572.0 L709.4,573.1 L707.6,574.2 L706.0,575.3 L704.3,575.8 L702.7,576.2 L701.0,575.6 L699.3,575.3 L697.7,574.5 L695.7,573.7 L693.8,572.8 L691.8,572.0 L689.8,571.7 L687.9,571.1 L686.0,570.3 L684.4,569.6 L682.7,569.1 L681.0,568.7 L679.4,568.2 L677.7,568.0 L676.0,567.8 L674.4,567.3 L672.7,566.9 L671.0,566.7 L669.3,566.9 L667.7,567.7 L666.0,567.8 L664.4,567.3 L662.7,567.0 L661.5,565.7 L660.5,564.2 L659.3,562.8 L657.6,562.4 L656.0,561.7 M736.8,524.5 L738.1,523.3 L739.3,522.0 L741.1,521.6 L742.7,520.7 L744.8,520.6 L746.8,520.3 L748.9,519.8 L751.0,519.5 L753.1,518.7 L755.2,517.8 L756.8,517.4 L758.6,517.3 L760.2,516.7 L758.8,517.7 L757.5,518.7 L756.0,519.5 L754.3,520.5 L752.7,521.7 L753.5,524.5 L751.9,525.5 L750.2,526.2 L748.5,526.9 L746.8,527.8 L745.0,528.4 L743.5,529.5 L741.8,529.1 L740.2,528.7 L737.7,527.0 L736.8,524.5 M775.2,507.8 L778.5,510.3 L780.2,507.0 L780.2,503.7 L784.3,503.3 L789.3,502.8 L794.3,502.0 L799.3,501.7 L804.3,502.8 L809.3,503.7 L816.0,502.8 M773.5,511.2 L776.0,512.0 L778.5,510.3 M774.7,528.7 L779.3,529.5 L780.2,532.8 L778.5,536.2 L776.0,539.5 L774.3,542.0 L771.0,542.8 L769.3,542.0 M771.0,542.8 L771.8,547.8 L771.0,552.8 L770.7,557.8 L769.3,563.7 L768.5,568.7 L766.8,575.3 L765.2,582.0 M765.2,555.3 L767.7,554.5 L770.2,556.2 L769.3,562.0 L766.8,567.0 L764.3,568.7 L763.5,564.5 L765.2,560.3 L765.2,555.3 M772.7,552.8 L776.8,555.3 L782.7,557.8 L787.7,554.5 L792.7,551.2 L799.3,547.8 L805.2,544.5 L810.2,541.2 L816.0,537.8 M805.2,544.5 L806.0,550.3 L807.7,557.8 L804.3,561.2 L797.7,563.7 L791.0,566.2 L785.2,567.8 L788.5,572.0 L791.8,577.0 L795.2,582.0 M807.7,557.8 L811.8,559.5 L816.0,561.2 M756.5,571.2 L757.2,577.0 L758.0,582.0 M659.3,562.8 L660.2,568.7 L659.0,575.3 L659.7,582.0 M731.3,568.7 L733.5,571.2 L736.0,572.3 L734.3,570.0 M597.8,582.0 L601.0,583.5 L604.8,582.5 L608.5,582.0 M659.5,582.0 L661.0,589.5 L661.5,597.0 L661.5,647.0 M739.0,585.8 L737.2,590.8 L739.8,597.0 L743.5,603.2 L747.2,609.5 L751.0,614.5 L754.8,622.0 L758.5,632.0 L762.2,642.0 L764.0,647.0 M739.0,585.8 L741.0,589.5 L743.0,595.8 L746.0,600.8 L751.0,607.0 L754.8,611.5 L758.0,613.2 L759.8,607.0 L761.5,599.5 L763.0,592.0 L762.2,597.0 L761.0,605.8 L760.5,610.8 L766.0,609.5 L769.8,615.8 L773.5,622.0 L777.2,629.5 L781.0,635.8 L784.8,642.0 L788.0,647.0 M779.8,638.2 L782.2,637.0 L784.8,640.8 L781.5,641.5 L779.8,638.2 M753.0,616.5 L754.0,617.5 M758.0,582.0 L761.0,587.0 L763.0,591.5 L763.5,587.0 L765.2,582.0 M763.0,594.5 L768.5,595.8 L774.8,596.5 L779.8,590.8 L783.5,587.0 L789.8,585.8 L794.8,580.8 L791.8,577.0 M304.2,582.0 L303.5,584.5 L299.8,590.8 L296.0,595.8 L291.0,600.8 L286.0,604.5 L281.0,608.2 L274.8,610.8 L269.8,614.5 L267.2,619.5 L264.8,625.8 L261.0,629.5 L257.2,633.2 L254.8,639.5 L252.2,647.0 M263.5,595.8 L266.0,594.5 L266.5,597.0 L264.0,599.0 L263.5,595.8 M256.0,609.5 L258.5,607.0 L261.0,603.2 L263.0,599.5 L264.0,600.0 L262.2,604.5 L259.8,608.2 L257.2,610.0 L256.0,609.5 M242.0,611.2 L242.8,609.5 L244.2,609.0 L246.0,609.8 L246.5,611.2 L245.8,613.0 L244.2,613.5 L242.8,612.8 L242.0,611.2 M231.5,609.0 L234.8,605.8 L238.5,603.2 L238.0,606.5 L236.0,609.5 L233.0,611.0 L231.5,609.0 M225.8,609.0 L226.8,608.0 L227.8,609.0 L226.8,610.0 L225.8,609.0 M220.0,600.8 L222.0,600.0 L222.5,603.2 L221.0,605.0 L219.8,602.5 L220.0,600.8 M218.0,613.5 L220.5,613.0 L219.5,615.0 L218.0,613.5 M241.0,584.0 L242.0,585.0 M358.5,582.0 L356.0,583.2 L351.0,587.0 L347.2,590.8 L338.5,592.0 L331.0,593.2 L324.8,595.8 L318.5,599.5 L315.2,602.0 L315.2,634.5 L281.0,634.5 L281.0,647.0 M315.2,619.5 L326.0,627.0 L338.5,635.8 L354.8,647.0 M776.0,337.0 L781.0,338.7 L786.0,337.0 L791.0,338.7 L796.0,341.2 L801.0,342.8 L806.0,342.0 L811.0,343.7 L816.0,342.8 M816.0,350.3 L812.7,353.7 L813.5,357.8 L811.0,361.2 L812.7,365.3 L816.0,367.0 M776.0,381.7 L777.6,381.2 L779.3,381.0 L781.0,380.7 L782.7,380.3 L784.2,379.3 L785.9,378.5 L787.7,377.8 L789.3,377.1 L791.0,376.6 L792.7,376.2 L794.7,375.3 L796.8,374.5 L798.8,374.4 L800.7,374.3 L802.7,374.5 L804.5,374.6 L806.2,375.3 L808.0,375.7 L809.3,377.3 L807.6,377.9 L806.0,378.7 L804.3,379.5 L802.7,379.8 L801.0,380.2 L799.3,380.7 L798.2,381.9 L796.8,382.8 L796.3,384.5 L796.0,386.2 L797.3,387.4 L798.5,388.7 L800.7,390.0 L799.1,390.4 L797.5,390.7 L796.0,391.2 L794.3,392.4 L792.7,393.7 L791.9,395.4 L791.0,397.0 L788.5,398.7 L786.9,399.2 L785.2,399.5 L783.5,399.7 L781.8,399.5 M816.0,366.2 L811.0,367.8 L805.2,367.8 L802.7,374.5 M776.0,398.3 L779.3,397.8 L781.8,399.5 L780.2,400.7 L776.0,400.7 M781.8,399.5 L783.9,399.9 L786.0,400.3 L787.7,401.1 L789.3,402.0 L791.0,403.2 L792.8,404.0 L794.3,405.3 L796.0,406.4 L797.5,407.7 L799.3,408.7 L801.1,409.6 L802.6,410.9 L804.3,412.0 L805.6,413.0 L806.9,414.0 L807.9,415.3 L809.3,416.2 L810.8,417.2 L812.0,418.5 L813.5,419.5 L814.9,420.6 L816.0,422.0 M776.0,442.8 L777.7,445.3 L779.4,445.5 L780.9,446.4 L782.7,446.5 L784.3,447.0 L786.1,447.2 L787.7,447.8 L789.3,448.2 L791.0,448.7 L792.6,449.0 L794.4,448.9 L796.0,449.1 L797.7,449.5 L799.3,450.0 L801.0,450.1 L802.7,449.9 L804.3,450.3 L806.0,450.3 L807.7,450.4 L809.3,450.7 L811.0,450.7 L812.7,450.9 L814.3,451.2 L816.0,451.2 M501.2,582.0 L502.2,583.2 L504.8,590.8 L506.0,599.5 L504.8,607.0 L506.0,614.5 L504.8,622.0 L506.0,627.0 L501.0,632.0 L504.8,638.2 L507.2,644.5 L507.2,647.0 M508.5,582.0 L506.0,583.2 L502.2,583.2 M123.0,479.0 L124.0,478.0 L125.0,479.0 L124.0,480.0 L123.0,479.0 M146.2,500.2 L147.2,501.2 M227.2,552.5 L229.8,551.0 L233.0,552.0 L232.2,554.5 L229.0,554.5 L227.2,552.5 M236.0,548.0 L237.0,549.0 M234.2,554.5 L235.2,556.0 M240.5,584.0 L241.5,585.0 M117.2,475.8 L118.2,476.5 M646.3,232.0 L648.5,230.3 L651.0,231.7 L650.0,234.5 L647.3,235.0 L646.3,232.0 M653.5,452.8 L651.4,452.9 L649.3,453.3 L647.6,453.5 L646.0,454.1 L644.3,454.5 L643.0,455.4 L641.5,456.1 L640.2,457.0"/>
<path stroke-width="1.69" d="M526.0,252.0 L525.1,250.2 L524.1,248.5 L524.7,246.2 L523.5,244.5 L524.1,242.5 L522.8,240.8 L522.5,238.9 L522.2,237.0 L520.7,235.7 L519.9,234.0 L519.8,232.0 L518.4,230.7 L517.2,229.2 L516.5,227.5 L516.6,225.5 L514.9,224.0 L515.0,222.0 L512.5,221.5 L514.0,222.9 L514.0,225.0 L512.3,226.3 L512.0,228.5 L510.8,229.6 L510.1,231.3 L508.5,232.0 L506.9,232.9 L505.8,234.6 L503.8,234.8 L502.2,235.8 L500.2,235.9 L498.8,237.1 L497.4,238.3 L496.0,239.5 L494.3,240.5 L492.3,241.0 L490.6,241.9 L488.5,242.0 L486.7,241.8 L485.0,242.5 L483.2,242.4 L481.6,243.5 L479.8,243.5 L477.8,243.6 L476.1,242.2 L474.3,241.5 L472.2,242.0 L470.4,240.4 L468.0,240.0 L466.8,238.5 L465.3,237.5 L463.5,237.0 L462.6,234.9 L461.0,233.2 L459.7,231.5 L459.4,229.4 L458.5,227.5 L458.7,225.6 L458.7,223.6 L460.0,222.0 L457.5,221.5 L456.0,219.5 L456.1,217.4 L456.6,215.4 L457.5,213.5 L456.8,212.0 L456.2,210.4 L454.4,209.6 L453.5,208.2 L454.6,206.9 L455.1,205.3 L455.4,203.8 L455.0,202.0 L455.1,199.9 L455.2,197.8 L456.0,195.8 L457.4,194.1 L459.0,192.8 L461.0,192.0 L462.4,190.7 L464.4,190.5 L466.0,189.5 L467.9,189.3 L469.4,188.3 L470.7,186.8 L472.2,186.0 L473.9,185.6 L475.6,185.3 L476.7,183.4 L478.5,183.5 L480.2,183.1 L481.9,182.9 L483.4,182.1 L484.8,181.0 L486.6,180.4 L487.9,179.0 L489.1,177.5 L491.0,177.0 L492.9,176.6 L494.2,175.1 L496.0,174.5 L497.8,174.4 L499.4,174.0 L500.6,172.5 L502.2,172.0 L503.7,171.0 L505.8,171.0 L507.1,169.7 L508.5,168.5 L509.7,167.0 L511.3,165.9 L512.8,165.0 L514.8,164.5 L516.5,163.8 L517.6,162.4 L518.5,160.8 L519.9,159.3 L522.1,159.6 L523.5,158.2 L525.7,157.7 L527.0,156.0 L528.5,154.5 L529.5,152.7 L531.1,151.2 L532.2,149.5 L533.0,147.4 L534.1,145.6 L536.0,144.5 L537.8,143.8 L538.7,142.2 L539.8,140.8 L541.0,139.5 L542.7,139.1 L543.4,137.4 L545.2,137.0 L546.4,136.0 L547.2,134.5 L548.1,132.9 L549.4,131.7 L550.7,130.5 L552.2,129.5 L553.1,127.6 L554.9,126.3 L556.0,124.5 L556.9,122.6 L558.4,121.1 L559.8,119.5 L559.7,117.1 L561.0,115.0 L559.0,115.2 L557.8,116.9 L556.0,117.5 L554.1,118.2 L552.2,118.6 L550.1,118.7 L548.5,120.0 L546.6,120.4 L544.7,119.8 L542.9,120.7 L541.0,121.0 L539.3,121.6 L537.7,122.3 L536.0,123.0 L537.1,121.4 L538.9,121.1 L540.2,119.8 L541.5,118.6 L543.5,118.5 L545.5,118.4 L547.1,116.7 L549.1,116.6 L551.0,116.0 L552.7,115.6 L554.0,114.5 L555.4,113.3 L557.0,112.8 L558.5,112.0 L560.1,111.5 L561.8,111.2 L562.9,109.5 L564.8,109.5 L566.5,108.8 L567.9,107.4 L569.8,107.0 L571.8,107.6 L573.5,109.0 L574.4,110.8 L576.0,112.0 M456.0,195.8 L457.9,196.1 L459.7,196.5 L461.5,197.1 L463.5,197.0 L465.6,197.2 L467.2,195.9 L469.2,195.7 L471.0,195.0 L472.7,195.7 L474.3,196.4 L476.0,197.0 L474.0,197.2 L472.3,198.1 L470.4,198.4 L468.5,199.0 L466.4,199.4 L464.2,198.9 L462.2,200.0 L460.2,200.7 L458.5,202.0 L460.3,203.0 L462.1,203.4 L464.2,202.5 L466.0,203.2 L467.7,203.1 L469.4,203.6 L471.1,203.2 L472.6,201.8 L474.2,201.5 L476.0,202.0 L477.9,202.4 L479.9,202.3 L481.7,203.0 L483.5,204.0 L482.0,205.2 L479.9,204.7 L478.1,205.0 L476.3,205.3 L474.8,206.5 L473.0,207.2 L471.2,206.3 L469.5,206.5 L467.8,207.5 L466.0,207.0 L463.8,206.7 L461.7,207.0 L459.8,208.2 L461.8,208.5 L463.2,210.4 L465.4,210.1 L467.2,211.0 L469.1,211.4 L470.8,212.6 L472.8,212.7 L474.8,212.5 L473.0,213.6 L471.0,213.6 L469.1,214.0 L467.2,214.5 L465.2,215.0 L463.1,215.4 L461.0,215.0 L462.5,215.8 L463.2,217.5 L464.8,218.2 L466.8,217.7 L468.5,219.0 L470.4,219.1 L472.2,219.5 L470.6,220.9 L468.6,221.0 L466.6,221.2 L464.8,222.0 L462.9,223.2 L461.0,224.5 L463.0,224.6 L463.9,226.9 L466.0,227.0 L467.9,226.8 L469.6,226.5 L471.0,225.0 L470.3,227.1 L468.8,228.6 L467.2,230.0 L465.8,231.3 L463.8,230.5 L462.2,231.5 M478.5,183.5 L480.3,183.6 L482.0,183.9 L483.5,185.0 L485.0,184.1 L486.9,184.2 L488.4,183.3 L489.8,182.0 L491.2,181.1 L492.7,180.4 L494.7,181.2 L496.0,180.0 L494.6,181.7 L493.5,183.5 L491.5,183.8 L490.0,185.5 L488.1,186.1 L486.0,186.0 L488.1,186.3 L490.2,185.9 L492.2,186.0 L493.4,184.4 L495.8,184.7 L497.1,183.2 L498.5,182.0 L500.4,181.5 L501.4,179.4 L503.5,179.0 L505.4,178.9 L506.5,176.9 L508.5,177.0 L510.6,176.9 L512.1,175.6 L514.0,175.0 L515.6,174.0 L517.5,173.6 L519.6,173.5 L521.0,172.0 L522.2,169.5 L520.8,170.3 L519.3,170.9 L517.6,170.6 L516.0,171.0 L514.5,172.1 L512.9,173.0 L511.0,173.0 L509.6,174.2 L508.0,175.1 L506.0,175.0 L504.4,174.4 L503.3,173.3 L502.2,172.0 M514.8,164.5 L516.5,164.3 L518.0,165.3 L519.8,165.0 L521.1,163.9 L522.9,163.5 L524.2,162.2 L526.0,162.0 L527.1,160.6 L527.9,158.9 L529.8,158.2 L531.2,157.0 L532.7,155.8 L534.8,155.8 L534.5,153.7 L533.5,152.0 L535.4,151.1 L537.2,150.0 L538.6,148.5 L540.6,148.0 L542.2,147.0 L543.6,145.4 L543.5,143.2 L545.0,142.1 L547.0,143.0 L548.5,142.0 L547.8,139.8 L547.2,137.5 L549.4,136.7 L551.5,136.0 L553.4,135.1 L554.4,133.2 L556.0,132.0 L555.0,130.7 L554.0,129.5 L555.6,129.1 L557.4,129.0 L558.5,127.5 L559.5,125.9 L561.4,125.1 L562.2,123.2 L564.1,122.3 L565.7,120.9 L567.2,119.5 L569.0,118.1 L571.0,117.0 L572.7,115.5 L574.8,114.5 M536.0,123.0 L538.2,123.0 L539.8,124.5 L541.1,123.3 L542.6,122.5 L544.6,123.0 L546.0,122.0 L548.0,121.2 L550.1,120.7 L552.2,121.0 L553.6,119.4 L555.9,119.7 L557.2,118.2 L559.2,118.0 L560.7,116.9 L562.2,115.8 L563.7,114.3 L565.3,113.2 L567.2,112.5 L568.8,111.6 L570.6,111.4 L572.2,111.0 M351.8,280.3 L353.5,277.8 L355.1,276.5 L355.2,274.5 L355.2,272.4 L356.8,271.2 L357.7,268.7 L355.2,269.5 L354.2,271.0 L352.7,272.0 L351.0,274.5 L349.3,275.7 L346.8,275.7 L346.0,272.8 L346.2,270.8 L347.7,269.5 L346.0,267.8 L345.2,269.5 L343.5,270.3 L341.6,270.9 L341.0,272.8 L338.5,272.0 L339.5,270.4 L340.2,268.7 L342.1,267.5 L342.7,265.3 L341.0,263.7 L339.3,263.5 L337.7,262.8 L339.4,262.1 L340.2,260.3 L341.8,259.4 L343.5,258.7 L346.0,257.0 L344.3,255.3 L342.6,255.4 L341.0,254.5 L339.6,253.2 L337.7,252.8 L337.6,250.8 L336.0,249.5 L338.5,247.8 L340.4,247.5 L341.8,248.7 L343.4,249.7 L345.2,250.3 L347.7,248.7 L348.7,247.1 L349.3,245.3 L348.4,243.8 L348.5,242.0 L349.6,240.6 L351.0,239.5 L351.7,237.7 L353.5,237.0 L355.0,236.0 L356.8,236.2 L358.4,235.3 L360.2,235.3 L362.3,235.4 L364.3,235.0 L366.5,235.1 L368.5,234.5 L369.9,233.1 L371.8,232.8 L374.3,232.0 M346.0,267.8 L347.1,265.9 L349.3,265.3 L351.3,264.2 L353.5,263.7 L352.5,262.2 L351.0,261.2 L349.0,262.1 L346.8,262.0 L345.3,261.0 L344.3,259.5 L345.7,257.8 L347.7,257.0 L349.6,256.6 L351.0,255.3 L349.8,254.0 L348.5,252.8 L347.0,254.0 L345.2,253.7 L343.5,251.2 L344.2,249.4 L346.0,248.7 M331.8,241.2 L333.4,239.8 L335.2,238.7 L337.3,238.1 L339.3,237.3 L341.3,238.3 L340.2,241.2 L338.4,242.1 L336.8,243.3 L335.4,244.8 L333.5,245.3 L332.5,246.9 L331.0,247.8 L329.6,248.9 L328.5,250.3 L328.2,252.0 L328.0,253.7 L327.3,255.3 L327.7,253.6 L328.5,252.0 L329.8,250.6 L330.2,248.7 L331.8,246.2 L331.0,243.7 L331.8,241.2 M441.0,323.7 L443.5,322.0 L445.2,322.4 L446.8,322.8 L449.3,321.2 L447.5,320.9 L446.0,320.0 L444.4,320.8 L442.7,321.2 L443.9,322.6 L445.2,324.0 L446.7,324.8 L448.5,324.7 M539.3,285.3 L541.8,284.2 L544.3,285.7 L542.7,287.8 L540.2,287.8 L539.3,285.3 M543.5,394.5 L544.8,395.9 L545.2,397.8 L546.4,399.8 L546.0,402.0 L547.7,404.5 L548.1,402.6 L549.3,401.2 L551.0,398.7 L553.5,400.3 L554.4,402.3 L556.0,403.7 L556.6,405.8 L558.5,407.0 L560.4,408.2 L561.0,410.3 L562.7,412.0 L564.3,413.7 L566.0,415.3 L567.7,417.0 L569.0,418.6 L571.0,419.5 L572.6,419.9 L573.8,421.2 L575.2,422.0 L576.7,422.6 L577.7,424.1 L579.3,424.5 L581.2,425.4 L582.7,427.0 L583.9,428.8 L586.0,429.5 L587.9,430.5 L589.3,432.0 L591.2,432.4 L592.7,433.7 L594.1,435.2 L596.0,436.2 L597.7,437.4 L599.3,438.7 L601.3,438.9 L602.7,440.3 M551.8,402.0 L552.5,403.5 L554.1,404.4 L554.3,406.2 L555.2,408.1 L556.8,409.5 L557.8,411.4 L559.3,412.8 L560.7,414.8 L562.7,416.2 M572.7,420.3 L574.3,421.1 L576.1,421.3 L577.7,422.0 L579.8,422.9 L581.8,424.0 M576.0,425.3 L577.7,425.6 L579.2,426.8 L581.0,426.7 L582.9,426.8 L584.1,428.5 L586.0,428.7"/>
<path stroke-width="1.56" d="M461.0,232.0 L462.6,233.4 L463.5,235.3 L464.9,236.4 L466.1,237.8 L467.7,238.7 L469.1,239.9 L471.1,240.1 L472.7,241.2 L474.5,241.4 L475.9,242.7 L477.7,242.8 L479.6,243.3 L481.6,242.8 L483.5,242.8 L485.3,241.8 L487.5,242.1 L489.3,241.2 L490.9,240.2 L492.8,239.9 L494.3,238.7 L495.8,237.6 L497.3,236.7 L498.5,235.3 L500.0,233.8 L501.8,232.8 L504.3,232.0 M610.2,472.0 L612.7,472.8 L613.7,474.3 L614.7,475.7 L616.0,477.0 L616.5,478.8 L617.7,480.3 L616.3,481.7 L616.0,483.7 L615.4,485.3 L615.2,487.0 L616.7,488.4 L618.5,489.5 L620.3,488.4 L621.8,487.0 L623.3,486.2 L624.3,485.0 L626.0,484.8 L627.7,484.6 L629.3,484.0 L631.0,483.5 L632.7,484.0 L634.3,483.7 L636.0,483.9 L637.6,484.6 L639.3,484.5 L641.2,484.8 L642.7,486.2 L644.2,487.1 L645.2,488.7 M622.7,487.8 L623.6,489.7 L625.2,491.2 L625.7,493.4 L626.8,495.3 L627.2,497.4 L627.7,499.5 L628.8,501.0 L629.3,502.8 L631.8,501.2 L632.9,502.7 L633.5,504.5 L634.4,506.1 L635.2,507.8 L636.8,505.3 L637.0,503.2 L637.7,501.2 L639.0,502.4 L640.2,503.7 L640.8,505.4 L641.8,507.0 L643.2,505.1 L643.5,502.8 L642.6,500.9 L642.7,498.7 L642.3,497.0 L641.8,495.3 L643.6,495.2 L645.2,496.2 L647.7,494.5 L646.4,493.0 L646.0,491.2 L644.5,490.0 L642.7,489.5 L641.0,488.6 L639.3,487.8 L637.8,486.8 L636.0,486.8 L634.3,486.2 L632.7,486.7 L631.0,486.3 L629.3,486.2 L627.2,486.5 L625.2,487.0 L622.7,487.8 M640.2,457.0 L638.5,457.8 L637.7,459.5 L636.6,461.0 L636.8,462.8 L637.7,464.5 L638.5,466.2 L639.8,467.8 L641.0,469.5 L642.6,470.4 L643.5,472.0 L645.1,473.0 L646.8,473.7 L648.6,473.7 L650.2,474.5 L649.3,476.2 L647.6,476.4 L646.0,475.7 L644.1,475.7 L642.7,474.5 L640.2,473.7 L639.3,476.2 L641.1,476.9 L641.8,478.7 L643.8,479.9 L646.0,480.7 L648.3,481.3 L650.2,482.8 L651.5,484.5 L653.5,485.0 L651.8,486.2 L650.0,486.3 L648.5,485.3 L646.0,484.5 L646.4,486.4 L647.7,487.8 L649.6,488.7 L651.0,490.3 L651.8,492.8 L649.3,492.0 L646.8,490.3 L645.2,488.7 M642.7,472.0 L644.9,472.4 L646.8,473.7 L648.1,474.7 L649.7,475.1 L651.0,476.2 L652.2,477.5 L654.0,478.1 L655.2,479.5 L657.2,480.8 L658.5,482.8 L660.2,485.3 L657.7,485.0 L656.1,483.7 L654.3,482.8 L653.1,481.8 L651.7,480.9 L650.2,480.3 L648.9,479.3 L647.2,479.0 L646.0,477.8 L644.4,476.6 L642.7,475.7 M646.8,518.7 L649.3,517.0 L651.0,517.4 L652.7,517.8 L654.8,517.8 L656.8,518.7 L658.9,519.0 L661.0,519.5 L662.7,519.7 L664.3,519.8 L666.0,520.0 L668.0,520.8 L670.2,521.2 L672.3,521.2 L674.3,522.0 L675.2,523.7 L673.4,524.1 L671.8,525.0 L670.2,525.1 L668.5,524.9 L666.8,525.0 L665.2,525.0 L663.5,525.3 L661.8,525.3 L659.7,525.0 L657.7,524.5 L656.1,523.8 L654.4,523.3 L652.7,523.3 L650.7,522.4 L648.5,522.0 L646.8,520.3 L646.8,518.7 M680.2,460.3 L679.3,462.0 L678.5,463.7 L678.3,465.8 L677.7,467.8 L677.3,469.7 L676.0,471.2 L677.8,471.3 L679.3,470.3 L681.8,469.5 L680.8,471.5 L680.2,473.7 L679.0,475.2 L678.5,477.0 L680.2,479.5 L682.7,478.7 L684.3,481.2 L681.8,482.8 L679.3,483.7 L681.0,486.2 L683.5,487.0 L685.2,489.5 L684.3,492.0 L686.0,494.5 L687.7,497.0 L686.0,498.7 L688.5,500.3 L690.1,499.7 L691.8,499.5 L693.5,500.0 L695.2,500.3 L692.7,502.0 L690.2,502.8 L692.7,504.5 L694.9,504.6 L696.8,503.7 L698.5,503.9 L700.2,503.3 L701.3,504.4 L702.7,505.3 L704.1,506.4 L705.2,507.8 L707.7,509.5 L709.8,509.7 L711.8,510.0 L714.1,509.8 L716.0,508.7 L717.1,507.3 L718.5,506.2 L719.3,503.7 L721.1,503.5 L722.7,502.8 L724.7,503.2 L726.8,503.3 L728.8,504.4 L731.0,504.5 L732.5,505.4 L734.4,505.4 L736.0,506.2 M659.3,85.3 L660.0,87.6 L661.3,89.5 L662.0,91.8 L662.7,94.0 L664.1,93.2 L665.2,92.0 L666.7,90.5 L667.7,88.7 L669.4,87.7 L670.7,86.2 L672.5,84.7 L674.3,83.3 L673.2,84.7 L672.4,86.2 L671.8,87.8 L670.2,89.5 L669.3,91.7 L670.9,90.7 L672.7,90.7 L674.3,90.1 L675.1,88.3 L676.8,87.8 L678.4,87.2 L679.7,86.0 L681.0,85.0 L683.5,83.7 M683.5,83.7 L683.1,85.8 L682.7,87.8 L681.9,89.7 L682.3,91.7 L683.8,90.2 L685.2,88.7 L686.3,87.1 L687.7,85.7 L689.5,85.2 L691.0,84.0 L692.4,85.3 L694.3,85.7 L696.3,86.9 L698.5,87.8 L700.3,87.4 L702.2,87.2 L704.1,86.9 L706.0,86.7 L707.6,87.2 L709.4,86.8 L711.0,87.2 L712.7,87.7 L714.3,87.8 L716.0,88.2 L717.7,88.6 L719.2,89.7 L720.9,90.3 L722.7,90.3 L724.0,92.8 L722.4,93.4 L720.9,94.0 L719.3,94.5 L717.7,95.1 L716.0,95.2 L714.4,95.6 L712.7,95.3 L711.0,95.2 L709.3,95.2 L707.7,95.9 L706.0,95.3 L704.4,94.5 L702.6,95.1 L701.0,94.7 L698.5,95.3 M631.0,235.3 L632.5,233.9 L633.5,232.0 L635.7,231.7 L637.7,230.7 L639.2,231.4 L641.1,231.0 L642.7,231.7 L644.0,232.8 L645.2,234.0 L643.6,234.8 L642.7,236.2 L640.7,237.1 L638.5,237.0 L636.5,237.6 L634.3,237.3 L632.7,236.3 L631.0,235.3 M628.5,242.8 L630.2,241.4 L631.8,240.0 L634.0,239.7 L636.0,238.7 L638.0,239.4 L640.2,239.5 L642.3,238.7 L644.3,237.8 L645.9,238.6 L647.7,238.4 L649.3,238.7 L651.4,239.5 L653.5,240.3 L654.6,241.7 L656.0,242.8 L656.2,244.5 L656.4,246.2 L656.3,247.8 L655.2,249.9 L654.3,252.0 L652.8,253.4 L651.0,254.5 L649.0,253.8 L646.8,254.0 L645.6,252.1 L644.0,250.3 L643.4,248.2 L642.7,246.2 L641.1,245.7 L639.8,244.6 L638.5,243.7 L636.8,243.8 L635.2,243.6 L633.5,243.7 L631.8,244.0 L630.2,244.5 L628.5,242.8 M583.5,201.6 L583.4,203.5 L584.4,205.8 L586.8,206.6 L585.7,208.9 L585.2,211.2 L586.5,212.4 L589.8,211.4 L589.2,215.2 L591.4,214.7 L593.7,214.3 L593.7,217.3 L596.3,216.0 L596.7,216.8 L599.1,217.1 L598.8,219.7 L598.5,219.5 L598.8,221.9 L598.3,223.8 L597.2,225.7 L596.6,226.6 L594.5,225.6 L593.5,228.6 L593.1,229.6 L591.1,229.7 L589.8,231.5 L587.3,231.2 M622.0,212.9 L624.0,211.8 L624.4,213.5 L626.2,214.2 L628.6,213.4 L629.4,216.0 L630.7,216.0 L632.7,217.3 L633.8,219.7 L636.3,216.8 L637.4,216.8 L638.9,219.0 L640.1,218.7 L642.4,218.5"/>
<path stroke-width="2.08" d="M700.2,405.7 L701.8,403.7 L703.5,402.0 L702.3,405.0 L700.7,407.0"/>
<path stroke-width="1.43" d="M676.8,458.7 L674.8,458.2 L672.7,457.8 L671.0,458.1 L669.3,458.7 L667.8,457.2 L666.0,456.2 L664.1,455.7 L662.7,454.5 L660.2,455.7 L661.3,457.7 L661.8,459.6 L662.3,461.6 L663.3,463.3 L662.2,462.0 L661.0,460.7 L659.0,458.7 L657.3,459.7 L658.0,462.7 L657.3,465.3 L656.1,464.1 L655.7,462.3 L654.7,460.0 L652.7,460.7 L653.0,462.3 L653.0,464.0 L652.0,466.0 L650.7,464.7 L650.3,463.0 L649.0,460.3 L647.0,459.7 L647.7,457.0 L648.7,455.5 L650.2,454.5 L652.0,454.0 L653.5,452.8 M535.8,119.7 L538.2,119.5 L538.7,115.4 L541.1,115.6 L544.6,119.9 L544.1,113.7 L547.4,115.7 L547.6,111.0 L549.6,112.4 L552.8,113.0 L555.8,113.9 L557.6,114.5 L559.6,113.6 L560.7,107.6 L563.2,110.5 L564.7,107.8 L567.9,108.9 L570.9,111.5 L571.6,108.4 L575.3,109.9 L575.9,107.4 L577.7,104.7 L581.3,106.4 L582.6,105.3 L583.6,101.0 L584.9,97.3 L588.5,103.3 L591.4,105.1 L591.3,98.3 L592.8,95.0 L596.4,99.0 L599.3,101.5 L601.5,100.7 L602.8,96.9 L605.0,97.2 L606.8,96.1 L608.3,93.6 L611.1,94.7 L613.0,93.4 L615.5,94.7 L617.4,95.1 L619.2,92.3 L620.0,88.8 L624.2,96.4 L625.6,92.6 L627.2,89.9 L629.2,89.5 L630.9,86.5 L633.3,88.6 L635.3,87.1 L637.9,90.8 L640.3,87.3 L642.4,91.6 L644.9,89.5 L645.7,85.5 L648.4,85.2 L649.9,84.8 L653.1,88.1 L654.2,83.7 L656.5,84.3 L658.9,85.8 L660.4,84.0 L664.1,87.2 L666.1,86.0 M536.3,122.0 L538.0,122.3 L540.9,123.6 L542.1,119.9 L543.8,116.9 L545.2,116.4 L548.6,116.7 L549.3,114.6 L551.8,112.7 L555.0,116.2 L557.0,114.6 L558.8,113.5 L562.0,115.3 L564.2,115.1 L565.9,113.5 L567.8,113.2 L568.6,107.2 L572.8,111.9 L572.4,106.2 L575.2,107.9 L577.9,106.4 L578.7,104.1 L581.2,103.5 L585.1,106.3 L585.5,103.1 L589.0,106.4 L589.9,101.2 L592.5,100.4 L594.9,99.0 L597.8,99.3 L599.1,96.3 L602.6,99.1 L605.3,98.7 L606.3,94.3 L609.7,96.6 L612.5,95.3 L614.5,97.6 L617.2,95.0 M535.2,144.8 L536.3,142.7 L541.3,144.4 L539.5,138.9 L540.5,137.0 L547.0,140.5 L547.0,138.0 L548.5,136.3 L550.6,136.6 L551.8,133.7 L552.1,132.0 L556.0,132.8 L557.7,132.7 L559.4,130.7 L560.3,127.5 L561.5,124.2 L562.3,121.5 L566.1,123.8 L569.6,126.0 L569.0,119.2 L571.7,119.3 L574.6,119.4 L573.9,115.6 L578.2,117.7 L578.6,113.2 L583.2,116.3 L585.5,114.4 L585.6,110.8 L588.1,110.3 L591.1,111.6 L591.4,108.0 L595.7,110.0 L594.0,103.2 L597.3,103.8 L601.2,106.5 L600.8,101.3 L603.8,102.0 M535.8,138.3 L538.3,138.2 L541.0,137.5 L542.6,135.0 L545.5,134.4 L545.8,129.6 L549.8,130.5 L552.2,130.8 L552.4,125.9 L556.6,127.4 L557.2,123.9 L561.1,126.1 L563.3,124.7 L564.4,121.5 L567.9,122.7 L568.6,118.1 L570.6,116.9 L573.3,116.5 M460.2,232.4 L459.4,230.1 L457.7,228.5 L459.2,225.3 L455.8,224.9 L455.0,222.9 L457.4,219.5 L453.7,218.0 L454.0,215.8 L455.3,214.4 L455.4,212.0 L455.7,209.7 L457.8,208.0 L455.4,205.6 L452.7,204.4 L453.8,201.8 L457.2,200.0 L453.9,197.5 L457.8,195.9 L456.7,194.0 L456.3,191.2 L459.7,192.3 L459.4,188.9 L461.8,187.8 L463.7,186.4 L465.9,187.6 L466.8,185.4 L469.8,187.4 L470.3,183.8 L472.6,185.2 L473.5,182.3 L475.4,181.4 L476.9,179.7 L479.4,181.6 L481.9,182.7 L483.1,181.1 L485.5,180.7 L485.6,177.3 L487.5,176.5 L489.5,177.0 L490.6,173.7 L493.1,176.7 L494.9,174.8 L496.8,174.7 L499.2,173.6 L500.7,171.1 L501.0,169.6 L502.5,168.6 L505.5,169.7 L508.8,170.2 L509.3,167.8 L508.2,164.7 L512.6,165.6 L513.4,165.0 L514.5,161.9 L516.4,162.6 L518.4,162.0 L520.1,161.5 L522.0,159.9 L523.0,158.5 L523.4,156.6 L524.5,155.4 L528.2,155.7 L527.2,151.9 L528.9,150.3 L530.6,150.5 L531.2,148.2 L533.0,147.1 L532.9,144.2 L536.1,144.3 L538.8,144.0 L539.8,142.8 L538.7,139.0 L543.2,139.8 L542.7,137.0 L544.7,136.1 L546.8,134.7 L547.4,132.7 M457.8,225.5 L456.2,223.3 L456.7,221.6 L457.1,219.4 L455.0,217.2 L457.0,215.5 L454.4,213.4 L455.5,210.9 L454.0,209.6 L454.0,208.0 L453.2,204.9 L454.3,202.9 L455.3,200.9 L456.2,199.1 L455.6,197.1 L455.7,194.7 L459.6,194.6 L459.4,191.9 L460.1,189.0 L463.3,189.3 L464.4,186.7 L466.6,187.2 L468.9,185.4 L470.5,185.4 L471.7,182.3 L474.3,183.5 L475.8,181.3 L479.1,183.3 L480.2,179.3 L482.0,179.0 L483.1,177.4 L485.5,176.8 L487.4,176.0 L490.5,177.3 L491.7,175.1 L493.5,174.9 L495.6,173.4 L498.0,172.9 M509.5,173.7 L510.9,173.3 L512.1,171.9 L514.0,170.5 L515.8,171.1 L517.5,170.5 L520.2,170.1 M154.0,150.7 L156.1,151.5 L157.0,150.4 L158.9,149.9 L160.3,149.7 L161.0,146.9 L163.1,147.8 L164.1,148.0 L165.8,147.0 L166.8,145.7 L167.6,142.9 L169.3,143.9 L171.2,142.2 L173.1,141.9 M158.9,159.4 L160.8,158.8 L162.0,159.5 L162.8,156.8 L164.2,156.5 L166.0,157.6 L167.5,158.3 L169.1,156.8 L170.7,157.2 L171.8,154.6 L173.7,156.3 L174.9,156.4 L176.8,155.7 L177.6,153.1 L178.0,151.7 L179.2,151.0 M171.9,169.7 L173.4,170.0 L174.7,168.5 L176.0,168.6 L178.0,167.9 L178.9,166.8 L179.7,166.0 L181.7,165.4"/>
<path stroke-width="1" stroke-dasharray="2,2" d="M269.8,615.0 H314.8"/>
<path stroke-width="1.17" d="M109.0,482.5 L111.5,480.8 L114.0,479.5 L116.0,481.0 L113.5,483.0 L111.0,483.5 L109.0,482.5 M139.0,490.0 L142.2,489.5 L145.5,490.5 L144.8,492.0 L141.0,492.0 L139.0,491.0 L139.0,490.0"/>
<path fill="#000" stroke-width="0.6" d="M326,193.5 L329,191.5 L331,190 L337,189.3 L340.5,190.5 L339,193 L336,194.5 L336.8,197.5 L334,197.3 L332.5,194.8 L329,194.2Z M333,199 L335,199.3 L337,202 L335.5,202.8 L333.3,201Z"/>
<path stroke-width="1.82" d="M604.2,215.0 L605.7,216.2 L607.9,217.0 L609.0,214.1 L610.5,216.2 L612.6,214.2 L614.2,218.5 L615.2,216.6 L616.9,216.9 L618.5,216.5 M369.0,230.1 L372.1,232.5 L371.5,229.2 L374.0,230.0 L373.9,228.9 L374.7,227.5 L377.4,230.1 L377.6,226.5"/>
<path stroke-width="1.95" d="M397.2,210.2 L393.8,209.2 L395.6,211.6 L392.7,211.4 L392.8,213.1 L389.9,212.6 L389.9,213.9 L392.0,216.8 L392.1,217.9 L390.9,219.0"/>
</g>
<rect x="96.5" y="72.5" width="719.0" height="574.5" fill="none" stroke="#000" stroke-width="1" shape-rendering="crispEdges"/>
<path d="M96.5,647.0v-6 M96.5,72.5v6 M199.5,647.0v-6 M199.5,72.5v6 M301.5,647.0v-6 M301.5,72.5v6 M404.5,647.0v-6 M404.5,72.5v6 M507.5,647.0v-6 M507.5,72.5v6 M610.5,647.0v-6 M610.5,72.5v6 M712.5,647.0v-6 M712.5,72.5v6 M815.5,647.0v-6 M815.5,72.5v6 M96.5,647.5h6 M815.5,647.5h-6 M96.5,586.5h6 M815.5,586.5h-6 M96.5,525.5h6 M815.5,525.5h-6 M96.5,464.5h6 M815.5,464.5h-6 M96.5,402.5h6 M815.5,402.5h-6 M96.5,341.5h6 M815.5,341.5h-6 M96.5,280.5h6 M815.5,280.5h-6 M96.5,219.5h6 M815.5,219.5h-6 M96.5,157.5h6 M815.5,157.5h-6 M96.5,96.5h6 M815.5,96.5h-6" stroke="#000" stroke-width="1" fill="none" shape-rendering="crispEdges"/>
<text class="k" x="97.0" y="668" text-anchor="middle">-30</text>
<text class="k" x="200.0" y="668" text-anchor="middle">-20</text>
<text class="k" x="302.0" y="668" text-anchor="middle">-10</text>
<text class="k" x="407.6" y="668" text-anchor="middle">0</text>
<text class="k" x="510.6" y="668" text-anchor="middle">10</text>
<text class="k" x="613.6" y="668" text-anchor="middle">20</text>
<text class="k" x="715.6" y="668" text-anchor="middle">30</text>
<text class="k" x="818.6" y="668" text-anchor="middle">40</text>
<text class="k" x="89" y="652.1" text-anchor="end">25</text>
<text class="k" x="89" y="591.1" text-anchor="end">30</text>
<text class="k" x="89" y="530.1" text-anchor="end">35</text>
<text class="k" x="89" y="469.1" text-anchor="end">40</text>
<text class="k" x="89" y="407.1" text-anchor="end">45</text>
<text class="k" x="89" y="346.1" text-anchor="end">50</text>
<text class="k" x="89" y="285.1" text-anchor="end">55</text>
<text class="k" x="89" y="224.1" text-anchor="end">60</text>
<text class="k" x="89" y="162.1" text-anchor="end">65</text>
<text class="k" x="89" y="101.1" text-anchor="end">70</text>
<text class="t" x="341.8" y="25.6" textLength="230.5" lengthAdjust="spacingAndGlyphs">JOS26-17 Scen:Baseline</text>
<text class="t" x="374.6" y="47.6" textLength="162.5" lengthAdjust="spacingAndGlyphs">Average VPL Map</text>
<text class="l" x="456.1" y="692.4" text-anchor="middle">Longitude</text>
<text class="l" transform="translate(55,360) rotate(-90)" text-anchor="middle">Latitude</text>
<text class="l" x="835" y="66.2" textLength="53" lengthAdjust="spacingAndGlyphs">VPL (m)</text>
<rect x="834" y="72" width="35" height="29" fill="#00008b" shape-rendering="crispEdges"/>
<text class="g" x="873.2" y="91.2">&gt;50</text>
<rect x="834" y="101" width="35" height="28" fill="#0040ff" shape-rendering="crispEdges"/>
<text class="g" x="873.2" y="119.7">≤50</text>
<rect x="834" y="129" width="35" height="29" fill="#00ffff" shape-rendering="crispEdges"/>
<text class="g" x="873.2" y="148.2">≤40</text>
<rect x="834" y="158" width="35" height="29" fill="#00ff00" shape-rendering="crispEdges"/>
<text class="g" x="873.2" y="177.2">≤35</text>
<rect x="834" y="187" width="35" height="29" fill="#ffff00" shape-rendering="crispEdges"/>
<text class="g" x="873.2" y="206.2">≤25</text>
<rect x="834" y="216" width="35" height="28" fill="#ffa500" shape-rendering="crispEdges"/>
<text class="g" x="873.2" y="234.7">≤20</text>
<rect x="834" y="244" width="35" height="29" fill="#ff0000" shape-rendering="crispEdges"/>
<text class="g" x="873.2" y="263.2">≤15</text>
<rect x="834" y="273" width="35" height="29" fill="#8b0000" shape-rendering="crispEdges"/>
<text class="g" x="873.2" y="292.2">≤10</text>
<rect x="834.5" y="302.5" width="34" height="29" fill="#c0c0c0" stroke="#000" stroke-width="1"/>
<text class="g" x="873.2" y="321.2">No PL</text>
</svg>
</body></html>
